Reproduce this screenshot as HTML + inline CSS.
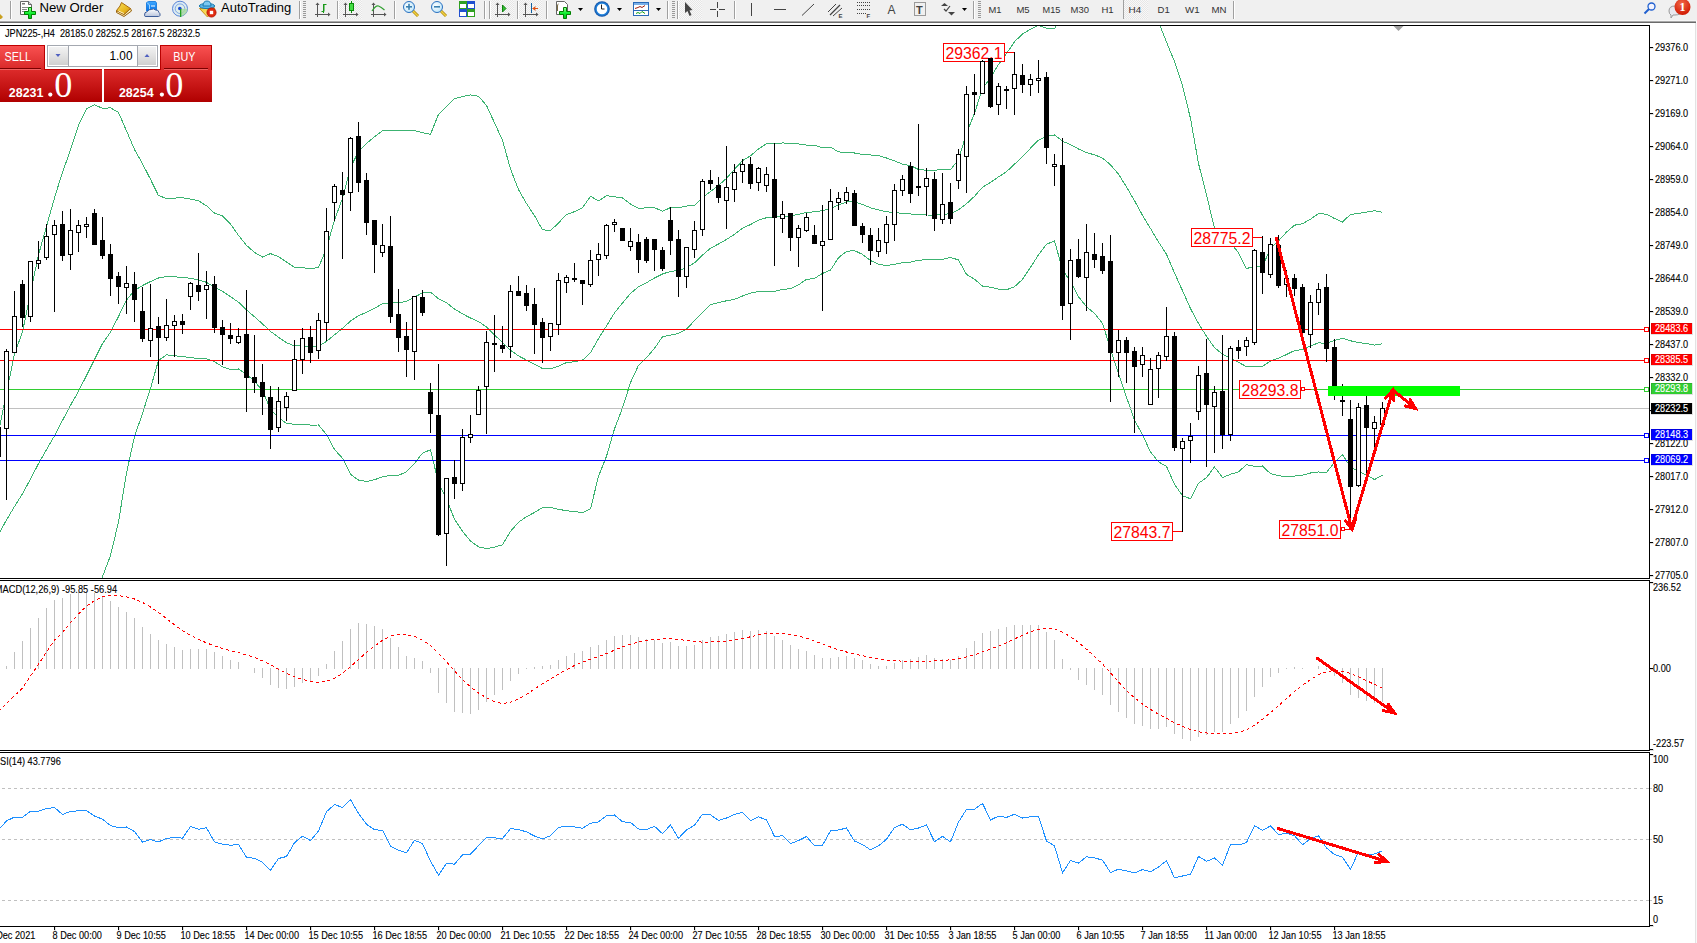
<!DOCTYPE html>
<html><head><meta charset="utf-8"><title>JPN225-,H4</title>
<style>
html,body{margin:0;padding:0;background:#fff;overflow:hidden}
#wrap{position:relative;width:1697px;height:943px;overflow:hidden;background:#fff;font-family:"Liberation Sans",Arial,sans-serif}
svg text{white-space:pre}
</style></head><body><div id="wrap">
<svg id="ch" width="1697" height="943" viewBox="0 0 1697 943" style="position:absolute;left:0;top:0">
<defs><clipPath id="cm"><rect x="0" y="26" width="1649" height="552"/></clipPath><clipPath id="cmacd"><rect x="0" y="581" width="1649" height="169"/></clipPath><clipPath id="crsi"><rect x="0" y="753" width="1649" height="173"/></clipPath></defs>
<rect x="0" y="23" width="1695" height="920" fill="#fff"/>
<rect x="1695" y="23" width="1" height="920" fill="#e3e3e3"/>
<rect x="1696" y="23" width="1" height="920" fill="#f7f7f7"/>
<g clip-path="url(#cm)">
<polyline points="-1.5,432.6 6.5,392.6 14.5,353.9 22.5,332.0 30.5,292.5 38.5,255.0 46.5,226.3 54.5,197.9 62.5,172.1 70.5,150.0 78.5,125.1 86.5,108.8 94.5,104.8 102.5,108.3 110.5,107.9 118.5,112.5 126.5,130.8 134.5,149.5 142.5,163.8 150.5,179.3 158.5,195.6 166.5,198.4 174.5,198.1 182.5,197.7 190.5,199.1 198.5,200.8 206.5,205.8 214.5,213.1 222.5,215.8 230.5,224.0 238.5,235.4 246.5,245.4 254.5,252.4 262.5,257.0 270.5,253.6 278.5,256.6 286.5,262.1 294.5,267.4 302.5,267.5 310.5,269.0 318.5,267.4 326.5,248.5 334.5,220.0 342.5,198.3 350.5,167.8 358.5,151.2 366.5,143.4 374.5,136.8 382.5,130.8 390.5,130.3 398.5,130.3 406.5,130.9 414.5,130.7 422.5,132.6 430.5,134.4 438.5,114.3 446.5,106.6 454.5,98.7 462.5,96.6 470.5,94.9 478.5,96.2 486.5,105.4 494.5,122.8 502.5,140.4 510.5,169.0 518.5,189.6 526.5,203.5 534.5,215.7 542.5,229.8 550.5,230.6 558.5,223.0 566.5,214.4 574.5,211.7 582.5,207.8 590.5,196.3 598.5,200.9 606.5,195.7 614.5,196.8 622.5,198.0 630.5,204.1 638.5,208.3 646.5,207.9 654.5,207.6 662.5,211.3 670.5,207.6 678.5,207.6 686.5,206.1 694.5,205.2 702.5,197.7 710.5,191.6 718.5,185.5 726.5,178.3 734.5,169.2 742.5,160.7 750.5,155.8 758.5,148.9 766.5,143.8 774.5,143.5 782.5,143.0 790.5,143.1 798.5,144.0 806.5,145.1 814.5,145.4 822.5,147.7 830.5,147.2 838.5,151.8 846.5,152.7 854.5,153.0 862.5,154.5 870.5,155.0 878.5,155.5 886.5,158.0 894.5,160.9 902.5,164.1 910.5,165.6 918.5,169.5 926.5,170.3 934.5,170.3 942.5,169.5 950.5,169.7 958.5,159.7 966.5,133.1 974.5,113.4 982.5,88.4 990.5,77.8 998.5,64.5 1006.5,53.6 1014.5,41.7 1022.5,34.0 1030.5,29.1 1038.5,25.3 1046.5,28.1 1054.5,28.8 1062.5,12.7 1070.5,7.5 1078.5,1.3 1086.5,-1.4 1094.5,-3.8 1102.5,-7.1 1110.5,-19.4 1118.5,-25.3 1126.5,-23.3 1134.5,-18.8 1142.5,-4.3 1150.5,5.1 1158.5,21.9 1166.5,42.1 1174.5,61.5 1182.5,85.7 1190.5,118.5 1198.5,163.5 1206.5,194.9 1214.5,228.4 1222.5,230.8 1230.5,242.8 1238.5,252.7 1246.5,268.6 1254.5,266.2 1262.5,266.7 1270.5,248.2 1278.5,240.9 1286.5,232.1 1294.5,225.2 1302.5,223.7 1310.5,219.2 1318.5,213.6 1326.5,214.2 1334.5,218.5 1342.5,222.0 1350.5,214.4 1358.5,213.5 1366.5,212.1 1374.5,210.7 1382.5,212.4" fill="none" stroke="#3cb371" stroke-width="1" shape-rendering="crispEdges" />
<polyline points="-1.5,534.1 6.5,520.0 14.5,506.5 22.5,493.7 30.5,479.0 38.5,463.7 46.5,449.6 54.5,435.8 62.5,420.4 70.5,405.3 78.5,391.3 86.5,375.5 94.5,359.6 102.5,343.5 110.5,332.2 118.5,316.5 126.5,300.0 134.5,290.4 142.5,285.5 150.5,281.5 158.5,278.0 166.5,276.6 174.5,276.9 182.5,277.2 190.5,278.3 198.5,279.8 206.5,282.3 214.5,287.3 222.5,291.3 230.5,296.7 238.5,302.2 246.5,309.9 254.5,316.8 262.5,323.9 270.5,331.4 278.5,337.2 286.5,342.8 294.5,345.8 302.5,345.9 310.5,347.0 318.5,346.2 326.5,341.5 334.5,334.8 342.5,328.3 350.5,321.1 358.5,315.6 366.5,312.4 374.5,308.3 382.5,303.8 390.5,302.7 398.5,302.8 406.5,301.4 414.5,297.1 422.5,292.9 430.5,292.1 438.5,298.7 446.5,302.8 454.5,309.0 462.5,313.9 470.5,318.0 478.5,321.5 486.5,327.0 494.5,334.9 502.5,342.6 510.5,350.2 518.5,355.9 526.5,360.1 534.5,364.1 542.5,368.6 550.5,369.0 558.5,366.2 566.5,362.6 574.5,361.7 582.5,360.2 590.5,352.6 598.5,338.6 606.5,325.9 614.5,312.9 622.5,303.0 630.5,293.4 638.5,286.8 646.5,282.7 654.5,278.0 662.5,274.0 670.5,271.4 678.5,270.5 686.5,267.6 694.5,262.9 702.5,255.1 710.5,248.2 718.5,244.0 726.5,239.5 734.5,234.3 742.5,228.3 750.5,224.5 758.5,220.2 766.5,217.7 774.5,217.4 782.5,216.2 790.5,215.9 798.5,214.4 806.5,212.3 814.5,211.9 822.5,210.6 830.5,208.7 838.5,204.8 846.5,202.0 854.5,201.8 862.5,204.4 870.5,207.8 878.5,209.9 886.5,211.8 894.5,212.6 902.5,213.4 910.5,213.9 918.5,214.8 926.5,215.0 934.5,215.1 942.5,214.5 950.5,213.6 958.5,209.9 966.5,203.7 974.5,196.3 982.5,187.2 990.5,182.5 998.5,176.9 1006.5,171.7 1014.5,164.2 1022.5,156.7 1030.5,148.2 1038.5,140.1 1046.5,136.2 1054.5,134.9 1062.5,141.2 1070.5,144.6 1078.5,149.0 1086.5,152.7 1094.5,154.8 1102.5,158.1 1110.5,164.8 1118.5,174.1 1126.5,187.0 1134.5,200.6 1142.5,215.3 1150.5,228.5 1158.5,241.9 1166.5,254.3 1174.5,272.9 1182.5,290.7 1190.5,308.6 1198.5,323.4 1206.5,336.3 1214.5,347.7 1222.5,354.1 1230.5,358.5 1238.5,362.3 1246.5,366.7 1254.5,366.2 1262.5,366.3 1270.5,361.0 1278.5,358.2 1286.5,354.5 1294.5,350.6 1302.5,349.5 1310.5,346.1 1318.5,342.8 1326.5,343.4 1334.5,340.3 1342.5,338.3 1350.5,340.8 1358.5,342.5 1366.5,343.6 1374.5,345.1 1382.5,343.8" fill="none" stroke="#3cb371" stroke-width="1" shape-rendering="crispEdges" />
<polyline points="-1.5,886.5 6.5,862.5 14.5,838.5 22.5,814.5 30.5,790.5 38.5,766.5 46.5,742.5 54.5,718.5 62.5,694.5 70.5,670.5 78.5,646.5 86.5,622.5 94.5,599.2 102.5,576.7 110.5,555.5 118.5,522.0 126.5,472.9 134.5,436.6 142.5,413.4 150.5,388.4 158.5,360.3 166.5,354.9 174.5,355.7 182.5,356.7 190.5,357.5 198.5,358.8 206.5,358.8 214.5,361.6 222.5,366.8 230.5,369.4 238.5,369.0 246.5,374.4 254.5,381.2 262.5,390.7 270.5,409.1 278.5,417.7 286.5,423.5 294.5,424.2 302.5,424.3 310.5,425.1 318.5,425.0 326.5,434.5 334.5,449.5 342.5,458.3 350.5,474.3 358.5,480.1 366.5,481.5 374.5,479.7 382.5,476.9 390.5,475.2 398.5,475.3 406.5,471.8 414.5,463.5 422.5,453.1 430.5,449.8 438.5,483.1 446.5,499.0 454.5,519.3 462.5,531.3 470.5,541.1 478.5,546.8 486.5,548.7 494.5,547.1 502.5,544.8 510.5,531.4 518.5,522.2 526.5,516.7 534.5,512.5 542.5,507.5 550.5,507.4 558.5,509.3 566.5,510.7 574.5,511.6 582.5,512.6 590.5,508.8 598.5,476.3 606.5,456.2 614.5,428.9 622.5,408.0 630.5,382.6 638.5,365.3 646.5,357.6 654.5,348.4 662.5,336.7 670.5,335.2 678.5,333.4 686.5,329.1 694.5,320.6 702.5,312.5 710.5,304.8 718.5,302.6 726.5,300.8 734.5,299.3 742.5,296.0 750.5,293.1 758.5,291.5 766.5,291.6 774.5,291.3 782.5,289.3 790.5,288.8 798.5,284.8 806.5,279.4 814.5,278.4 822.5,273.4 830.5,270.1 838.5,257.7 846.5,251.4 854.5,250.6 862.5,254.4 870.5,260.5 878.5,264.3 886.5,265.6 894.5,264.4 902.5,262.7 910.5,262.2 918.5,260.2 926.5,259.8 934.5,259.8 942.5,259.5 950.5,257.4 958.5,260.0 966.5,274.4 974.5,279.1 982.5,286.1 990.5,287.2 998.5,289.2 1006.5,289.8 1014.5,286.7 1022.5,279.4 1030.5,267.3 1038.5,254.8 1046.5,244.3 1054.5,241.0 1062.5,269.6 1070.5,281.6 1078.5,296.7 1086.5,306.8 1094.5,313.3 1102.5,323.3 1110.5,349.0 1118.5,373.5 1126.5,397.2 1134.5,420.0 1142.5,434.9 1150.5,451.9 1158.5,461.9 1166.5,466.4 1174.5,484.3 1182.5,495.8 1190.5,498.7 1198.5,483.3 1206.5,477.7 1214.5,467.0 1222.5,477.5 1230.5,474.3 1238.5,471.8 1246.5,464.8 1254.5,466.2 1262.5,466.0 1270.5,473.7 1278.5,475.5 1286.5,476.9 1294.5,476.1 1302.5,475.2 1310.5,473.0 1318.5,472.0 1326.5,472.6 1334.5,462.2 1342.5,454.7 1350.5,467.2 1358.5,471.4 1366.5,475.2 1374.5,479.5 1382.5,475.3" fill="none" stroke="#3cb371" stroke-width="1" shape-rendering="crispEdges" />
<rect x="0" y="329" width="1644" height="1" fill="#ff0000"/>
<rect x="1644.5" y="327.5" width="4" height="4" fill="#fff" stroke="#ff0000" stroke-width="1"/>
<rect x="0" y="360" width="1644" height="1" fill="#ff0000"/>
<rect x="1644.5" y="358.5" width="4" height="4" fill="#fff" stroke="#ff0000" stroke-width="1"/>
<rect x="0" y="389" width="1644" height="1" fill="#32cd32"/>
<rect x="1644.5" y="387.5" width="4" height="4" fill="#fff" stroke="#32cd32" stroke-width="1"/>
<rect x="0" y="408" width="1649" height="1" fill="#c0c0c0"/>
<rect x="0" y="435" width="1644" height="1" fill="#0000ff"/>
<rect x="1644.5" y="433.5" width="4" height="4" fill="#fff" stroke="#0000ff" stroke-width="1"/>
<rect x="0" y="460" width="1644" height="1" fill="#0000ff"/>
<rect x="1644.5" y="458.5" width="4" height="4" fill="#fff" stroke="#0000ff" stroke-width="1"/>
</g>
<g font-family='"Liberation Sans", Arial, sans-serif'>
<rect x="943.5" y="43.5" width="61" height="18" fill="#fff" stroke="#ff0000" stroke-width="1"/><rect x="1005" y="52" width="9" height="1" fill="#ff0000"/><text x="945.5" y="59" font-size="16.8" fill="#ff0000" textLength="57" lengthAdjust="spacingAndGlyphs">29362.1</text>
<rect x="1191.5" y="228.5" width="61" height="18" fill="#fff" stroke="#ff0000" stroke-width="1"/><rect x="1253" y="237" width="9" height="1" fill="#ff0000"/><text x="1193.5" y="244" font-size="16.8" fill="#ff0000" textLength="57" lengthAdjust="spacingAndGlyphs">28775.2</text>
<rect x="1239.5" y="380.5" width="61" height="18" fill="#fff" stroke="#ff0000" stroke-width="1"/><rect x="1301.5" y="387.5" width="3" height="3" fill="#fff" stroke="#ff0000" stroke-width="1"/><rect x="1305" y="389" width="6" height="1" fill="#ff0000"/><text x="1241.5" y="396" font-size="16.8" fill="#ff0000" textLength="57" lengthAdjust="spacingAndGlyphs">28293.8</text>
<rect x="1111.5" y="522.5" width="61" height="18" fill="#fff" stroke="#ff0000" stroke-width="1"/><rect x="1173" y="531" width="9" height="1" fill="#ff0000"/><text x="1113.5" y="538" font-size="16.8" fill="#ff0000" textLength="57" lengthAdjust="spacingAndGlyphs">27843.7</text>
<rect x="1279.5" y="520.5" width="61" height="18" fill="#fff" stroke="#ff0000" stroke-width="1"/><rect x="1341.5" y="527.5" width="3" height="3" fill="#fff" stroke="#ff0000" stroke-width="1"/><rect x="1345" y="529" width="5" height="1" fill="#ff0000"/><text x="1281.5" y="536" font-size="16.8" fill="#ff0000" textLength="57" lengthAdjust="spacingAndGlyphs">27851.0</text>
</g>
<g clip-path="url(#cm)" shape-rendering="crispEdges">
<rect x="-2" y="420" width="1" height="51" fill="#000"/>
<rect x="-4" y="427" width="5" height="30" fill="#000"/>
<rect x="6" y="349" width="1" height="151" fill="#000"/>
<rect x="4.5" y="351.5" width="4" height="77" fill="#fff" stroke="#000" stroke-width="1"/>
<rect x="14" y="291" width="1" height="62" fill="#000"/>
<rect x="12.5" y="316.5" width="4" height="36" fill="#fff" stroke="#000" stroke-width="1"/>
<rect x="22" y="280" width="1" height="47" fill="#000"/>
<rect x="20" y="284" width="5" height="34" fill="#000"/>
<rect x="30" y="261" width="1" height="61" fill="#000"/>
<rect x="28.5" y="261.5" width="4" height="55" fill="#fff" stroke="#000" stroke-width="1"/>
<rect x="38" y="241" width="1" height="28" fill="#000"/>
<rect x="36.5" y="260.5" width="4" height="3" fill="#fff" stroke="#000" stroke-width="1"/>
<rect x="46" y="224" width="1" height="36" fill="#000"/>
<rect x="44.5" y="236.5" width="4" height="21" fill="#fff" stroke="#000" stroke-width="1"/>
<rect x="54" y="220" width="1" height="92" fill="#000"/>
<rect x="52.5" y="225.5" width="4" height="9" fill="#fff" stroke="#000" stroke-width="1"/>
<rect x="62" y="211" width="1" height="50" fill="#000"/>
<rect x="60" y="224" width="5" height="32" fill="#000"/>
<rect x="70" y="209" width="1" height="61" fill="#000"/>
<rect x="68.5" y="230.5" width="4" height="24" fill="#fff" stroke="#000" stroke-width="1"/>
<rect x="78" y="220" width="1" height="32" fill="#000"/>
<rect x="76.5" y="225.5" width="4" height="7" fill="#fff" stroke="#000" stroke-width="1"/>
<rect x="86" y="217" width="1" height="21" fill="#000"/>
<rect x="84.5" y="224.5" width="4" height="2" fill="#fff" stroke="#000" stroke-width="1"/>
<rect x="94" y="209" width="1" height="36" fill="#000"/>
<rect x="92" y="213" width="5" height="32" fill="#000"/>
<rect x="102" y="217" width="1" height="42" fill="#000"/>
<rect x="100" y="240" width="5" height="16" fill="#000"/>
<rect x="110" y="244" width="1" height="52" fill="#000"/>
<rect x="108" y="254" width="5" height="25" fill="#000"/>
<rect x="118" y="272" width="1" height="32" fill="#000"/>
<rect x="116" y="276" width="5" height="11" fill="#000"/>
<rect x="126" y="266" width="1" height="48" fill="#000"/>
<rect x="124.5" y="283.5" width="4" height="4" fill="#fff" stroke="#000" stroke-width="1"/>
<rect x="134" y="272" width="1" height="50" fill="#000"/>
<rect x="132" y="284" width="5" height="16" fill="#000"/>
<rect x="142" y="287" width="1" height="55" fill="#000"/>
<rect x="140" y="311" width="5" height="28" fill="#000"/>
<rect x="150" y="284" width="1" height="73" fill="#000"/>
<rect x="148.5" y="328.5" width="4" height="12" fill="#fff" stroke="#000" stroke-width="1"/>
<rect x="158" y="317" width="1" height="67" fill="#000"/>
<rect x="156" y="326" width="5" height="12" fill="#000"/>
<rect x="166" y="299" width="1" height="42" fill="#000"/>
<rect x="164.5" y="325.5" width="4" height="12" fill="#fff" stroke="#000" stroke-width="1"/>
<rect x="174" y="315" width="1" height="42" fill="#000"/>
<rect x="172.5" y="321.5" width="4" height="4" fill="#fff" stroke="#000" stroke-width="1"/>
<rect x="182" y="314" width="1" height="20" fill="#000"/>
<rect x="180" y="321" width="5" height="4" fill="#000"/>
<rect x="190" y="282" width="1" height="28" fill="#000"/>
<rect x="188.5" y="283.5" width="4" height="13" fill="#fff" stroke="#000" stroke-width="1"/>
<rect x="198" y="253" width="1" height="48" fill="#000"/>
<rect x="196" y="285" width="5" height="7" fill="#000"/>
<rect x="206" y="271" width="1" height="48" fill="#000"/>
<rect x="204.5" y="285.5" width="4" height="4" fill="#fff" stroke="#000" stroke-width="1"/>
<rect x="214" y="276" width="1" height="57" fill="#000"/>
<rect x="212" y="284" width="5" height="44" fill="#000"/>
<rect x="222" y="320" width="1" height="45" fill="#000"/>
<rect x="220" y="327" width="5" height="8" fill="#000"/>
<rect x="230" y="323" width="1" height="21" fill="#000"/>
<rect x="228" y="335" width="5" height="4" fill="#000"/>
<rect x="238" y="328" width="1" height="16" fill="#000"/>
<rect x="236.5" y="336.5" width="4" height="6" fill="#fff" stroke="#000" stroke-width="1"/>
<rect x="246" y="290" width="1" height="122" fill="#000"/>
<rect x="244" y="334" width="5" height="44" fill="#000"/>
<rect x="254" y="335" width="1" height="58" fill="#000"/>
<rect x="252" y="377" width="5" height="6" fill="#000"/>
<rect x="262" y="364" width="1" height="51" fill="#000"/>
<rect x="260" y="382" width="5" height="15" fill="#000"/>
<rect x="270" y="386" width="1" height="63" fill="#000"/>
<rect x="268" y="397" width="5" height="33" fill="#000"/>
<rect x="278" y="387" width="1" height="45" fill="#000"/>
<rect x="276.5" y="401.5" width="4" height="26" fill="#fff" stroke="#000" stroke-width="1"/>
<rect x="286" y="392" width="1" height="29" fill="#000"/>
<rect x="284.5" y="396.5" width="4" height="11" fill="#fff" stroke="#000" stroke-width="1"/>
<rect x="294" y="340" width="1" height="51" fill="#000"/>
<rect x="292.5" y="359.5" width="4" height="31" fill="#fff" stroke="#000" stroke-width="1"/>
<rect x="302" y="328" width="1" height="46" fill="#000"/>
<rect x="300.5" y="338.5" width="4" height="21" fill="#fff" stroke="#000" stroke-width="1"/>
<rect x="310" y="326" width="1" height="37" fill="#000"/>
<rect x="308" y="337" width="5" height="16" fill="#000"/>
<rect x="318" y="313" width="1" height="46" fill="#000"/>
<rect x="316.5" y="320.5" width="4" height="30" fill="#fff" stroke="#000" stroke-width="1"/>
<rect x="326" y="208" width="1" height="133" fill="#000"/>
<rect x="324.5" y="231.5" width="4" height="91" fill="#fff" stroke="#000" stroke-width="1"/>
<rect x="334" y="184" width="1" height="37" fill="#000"/>
<rect x="332.5" y="186.5" width="4" height="16" fill="#fff" stroke="#000" stroke-width="1"/>
<rect x="342" y="172" width="1" height="87" fill="#000"/>
<rect x="340" y="190" width="5" height="5" fill="#000"/>
<rect x="350" y="137" width="1" height="74" fill="#000"/>
<rect x="348.5" y="138.5" width="4" height="54" fill="#fff" stroke="#000" stroke-width="1"/>
<rect x="358" y="122" width="1" height="70" fill="#000"/>
<rect x="356" y="136" width="5" height="47" fill="#000"/>
<rect x="366" y="173" width="1" height="62" fill="#000"/>
<rect x="364" y="180" width="5" height="43" fill="#000"/>
<rect x="374" y="220" width="1" height="53" fill="#000"/>
<rect x="372" y="220" width="5" height="25" fill="#000"/>
<rect x="382" y="224" width="1" height="33" fill="#000"/>
<rect x="380.5" y="245.5" width="4" height="7" fill="#fff" stroke="#000" stroke-width="1"/>
<rect x="390" y="216" width="1" height="107" fill="#000"/>
<rect x="388" y="246" width="5" height="71" fill="#000"/>
<rect x="398" y="289" width="1" height="63" fill="#000"/>
<rect x="396" y="314" width="5" height="24" fill="#000"/>
<rect x="406" y="322" width="1" height="55" fill="#000"/>
<rect x="404" y="336" width="5" height="14" fill="#000"/>
<rect x="414" y="296" width="1" height="84" fill="#000"/>
<rect x="412.5" y="296.5" width="4" height="55" fill="#fff" stroke="#000" stroke-width="1"/>
<rect x="422" y="290" width="1" height="26" fill="#000"/>
<rect x="420" y="297" width="5" height="16" fill="#000"/>
<rect x="430" y="383" width="1" height="50" fill="#000"/>
<rect x="428" y="392" width="5" height="22" fill="#000"/>
<rect x="438" y="364" width="1" height="172" fill="#000"/>
<rect x="436" y="415" width="5" height="120" fill="#000"/>
<rect x="446" y="478" width="1" height="88" fill="#000"/>
<rect x="444.5" y="478.5" width="4" height="55" fill="#fff" stroke="#000" stroke-width="1"/>
<rect x="454" y="460" width="1" height="39" fill="#000"/>
<rect x="452" y="477" width="5" height="7" fill="#000"/>
<rect x="462" y="429" width="1" height="62" fill="#000"/>
<rect x="460.5" y="437.5" width="4" height="46" fill="#fff" stroke="#000" stroke-width="1"/>
<rect x="470" y="415" width="1" height="28" fill="#000"/>
<rect x="468.5" y="434.5" width="4" height="3" fill="#fff" stroke="#000" stroke-width="1"/>
<rect x="478" y="386" width="1" height="29" fill="#000"/>
<rect x="476.5" y="390.5" width="4" height="24" fill="#fff" stroke="#000" stroke-width="1"/>
<rect x="486" y="331" width="1" height="103" fill="#000"/>
<rect x="484.5" y="342.5" width="4" height="44" fill="#fff" stroke="#000" stroke-width="1"/>
<rect x="494" y="315" width="1" height="57" fill="#000"/>
<rect x="492" y="343" width="5" height="2" fill="#000"/>
<rect x="502" y="326" width="1" height="27" fill="#000"/>
<rect x="500" y="345" width="5" height="4" fill="#000"/>
<rect x="510" y="285" width="1" height="73" fill="#000"/>
<rect x="508.5" y="291.5" width="4" height="55" fill="#fff" stroke="#000" stroke-width="1"/>
<rect x="518" y="276" width="1" height="20" fill="#000"/>
<rect x="516" y="291" width="5" height="5" fill="#000"/>
<rect x="526" y="285" width="1" height="26" fill="#000"/>
<rect x="524" y="293" width="5" height="13" fill="#000"/>
<rect x="534" y="288" width="1" height="66" fill="#000"/>
<rect x="532" y="304" width="5" height="21" fill="#000"/>
<rect x="542" y="318" width="1" height="45" fill="#000"/>
<rect x="540" y="322" width="5" height="16" fill="#000"/>
<rect x="550" y="323" width="1" height="28" fill="#000"/>
<rect x="548.5" y="323.5" width="4" height="13" fill="#fff" stroke="#000" stroke-width="1"/>
<rect x="558" y="273" width="1" height="62" fill="#000"/>
<rect x="556.5" y="280.5" width="4" height="44" fill="#fff" stroke="#000" stroke-width="1"/>
<rect x="566" y="275" width="1" height="18" fill="#000"/>
<rect x="564.5" y="277.5" width="4" height="5" fill="#fff" stroke="#000" stroke-width="1"/>
<rect x="574" y="263" width="1" height="19" fill="#000"/>
<rect x="572.5" y="278.5" width="4" height="1" fill="#fff" stroke="#000" stroke-width="1"/>
<rect x="582" y="280" width="1" height="25" fill="#000"/>
<rect x="580" y="280" width="5" height="4" fill="#000"/>
<rect x="590" y="250" width="1" height="37" fill="#000"/>
<rect x="588.5" y="260.5" width="4" height="24" fill="#fff" stroke="#000" stroke-width="1"/>
<rect x="598" y="243" width="1" height="33" fill="#000"/>
<rect x="596.5" y="254.5" width="4" height="5" fill="#fff" stroke="#000" stroke-width="1"/>
<rect x="606" y="224" width="1" height="35" fill="#000"/>
<rect x="604.5" y="225.5" width="4" height="30" fill="#fff" stroke="#000" stroke-width="1"/>
<rect x="614" y="219" width="1" height="13" fill="#000"/>
<rect x="612.5" y="222.5" width="4" height="2" fill="#fff" stroke="#000" stroke-width="1"/>
<rect x="622" y="228" width="1" height="13" fill="#000"/>
<rect x="620" y="228" width="5" height="13" fill="#000"/>
<rect x="630" y="228" width="1" height="23" fill="#000"/>
<rect x="628.5" y="241.5" width="4" height="5" fill="#fff" stroke="#000" stroke-width="1"/>
<rect x="638" y="234" width="1" height="39" fill="#000"/>
<rect x="636" y="242" width="5" height="18" fill="#000"/>
<rect x="646" y="237" width="1" height="26" fill="#000"/>
<rect x="644" y="239" width="5" height="22" fill="#000"/>
<rect x="654" y="239" width="1" height="32" fill="#000"/>
<rect x="652" y="239" width="5" height="11" fill="#000"/>
<rect x="662" y="247" width="1" height="24" fill="#000"/>
<rect x="660" y="250" width="5" height="19" fill="#000"/>
<rect x="670" y="207" width="1" height="48" fill="#000"/>
<rect x="668" y="220" width="5" height="21" fill="#000"/>
<rect x="678" y="230" width="1" height="67" fill="#000"/>
<rect x="676" y="239" width="5" height="38" fill="#000"/>
<rect x="686" y="247" width="1" height="41" fill="#000"/>
<rect x="684.5" y="247.5" width="4" height="29" fill="#fff" stroke="#000" stroke-width="1"/>
<rect x="694" y="221" width="1" height="37" fill="#000"/>
<rect x="692.5" y="230.5" width="4" height="19" fill="#fff" stroke="#000" stroke-width="1"/>
<rect x="702" y="179" width="1" height="57" fill="#000"/>
<rect x="700.5" y="181.5" width="4" height="48" fill="#fff" stroke="#000" stroke-width="1"/>
<rect x="710" y="170" width="1" height="20" fill="#000"/>
<rect x="708" y="180" width="5" height="4" fill="#000"/>
<rect x="718" y="177" width="1" height="26" fill="#000"/>
<rect x="716" y="185" width="5" height="13" fill="#000"/>
<rect x="726" y="146" width="1" height="83" fill="#000"/>
<rect x="724.5" y="187.5" width="4" height="13" fill="#fff" stroke="#000" stroke-width="1"/>
<rect x="734" y="164" width="1" height="38" fill="#000"/>
<rect x="732.5" y="172.5" width="4" height="17" fill="#fff" stroke="#000" stroke-width="1"/>
<rect x="742" y="159" width="1" height="24" fill="#000"/>
<rect x="740.5" y="164.5" width="4" height="7" fill="#fff" stroke="#000" stroke-width="1"/>
<rect x="750" y="157" width="1" height="32" fill="#000"/>
<rect x="748" y="164" width="5" height="20" fill="#000"/>
<rect x="758" y="167" width="1" height="24" fill="#000"/>
<rect x="756.5" y="168.5" width="4" height="14" fill="#fff" stroke="#000" stroke-width="1"/>
<rect x="766" y="167" width="1" height="25" fill="#000"/>
<rect x="764.5" y="174.5" width="4" height="11" fill="#fff" stroke="#000" stroke-width="1"/>
<rect x="774" y="143" width="1" height="123" fill="#000"/>
<rect x="772" y="179" width="5" height="39" fill="#000"/>
<rect x="782" y="201" width="1" height="32" fill="#000"/>
<rect x="780.5" y="214.5" width="4" height="4" fill="#fff" stroke="#000" stroke-width="1"/>
<rect x="790" y="213" width="1" height="38" fill="#000"/>
<rect x="788" y="213" width="5" height="25" fill="#000"/>
<rect x="798" y="225" width="1" height="42" fill="#000"/>
<rect x="796.5" y="228.5" width="4" height="9" fill="#fff" stroke="#000" stroke-width="1"/>
<rect x="806" y="213" width="1" height="19" fill="#000"/>
<rect x="804.5" y="217.5" width="4" height="13" fill="#fff" stroke="#000" stroke-width="1"/>
<rect x="814" y="225" width="1" height="19" fill="#000"/>
<rect x="812" y="235" width="5" height="9" fill="#000"/>
<rect x="822" y="205" width="1" height="106" fill="#000"/>
<rect x="820.5" y="241.5" width="4" height="4" fill="#fff" stroke="#000" stroke-width="1"/>
<rect x="830" y="189" width="1" height="51" fill="#000"/>
<rect x="828.5" y="201.5" width="4" height="38" fill="#fff" stroke="#000" stroke-width="1"/>
<rect x="838" y="192" width="1" height="18" fill="#000"/>
<rect x="836.5" y="198.5" width="4" height="4" fill="#fff" stroke="#000" stroke-width="1"/>
<rect x="846" y="187" width="1" height="17" fill="#000"/>
<rect x="844.5" y="192.5" width="4" height="8" fill="#fff" stroke="#000" stroke-width="1"/>
<rect x="854" y="190" width="1" height="36" fill="#000"/>
<rect x="852" y="193" width="5" height="33" fill="#000"/>
<rect x="862" y="223" width="1" height="20" fill="#000"/>
<rect x="860" y="226" width="5" height="9" fill="#000"/>
<rect x="870" y="228" width="1" height="37" fill="#000"/>
<rect x="868" y="235" width="5" height="16" fill="#000"/>
<rect x="878" y="228" width="1" height="29" fill="#000"/>
<rect x="876.5" y="240.5" width="4" height="11" fill="#fff" stroke="#000" stroke-width="1"/>
<rect x="886" y="216" width="1" height="38" fill="#000"/>
<rect x="884.5" y="224.5" width="4" height="18" fill="#fff" stroke="#000" stroke-width="1"/>
<rect x="894" y="184" width="1" height="57" fill="#000"/>
<rect x="892.5" y="190.5" width="4" height="34" fill="#fff" stroke="#000" stroke-width="1"/>
<rect x="902" y="175" width="1" height="21" fill="#000"/>
<rect x="900.5" y="179.5" width="4" height="11" fill="#fff" stroke="#000" stroke-width="1"/>
<rect x="910" y="162" width="1" height="41" fill="#000"/>
<rect x="908" y="166" width="5" height="28" fill="#000"/>
<rect x="918" y="124" width="1" height="72" fill="#000"/>
<rect x="916" y="186" width="5" height="2" fill="#000"/>
<rect x="926" y="168" width="1" height="48" fill="#000"/>
<rect x="924.5" y="178.5" width="4" height="8" fill="#fff" stroke="#000" stroke-width="1"/>
<rect x="934" y="172" width="1" height="59" fill="#000"/>
<rect x="932" y="179" width="5" height="40" fill="#000"/>
<rect x="942" y="173" width="1" height="51" fill="#000"/>
<rect x="940.5" y="204.5" width="4" height="15" fill="#fff" stroke="#000" stroke-width="1"/>
<rect x="950" y="183" width="1" height="41" fill="#000"/>
<rect x="948" y="202" width="5" height="17" fill="#000"/>
<rect x="958" y="149" width="1" height="40" fill="#000"/>
<rect x="956.5" y="154.5" width="4" height="26" fill="#fff" stroke="#000" stroke-width="1"/>
<rect x="966" y="86" width="1" height="107" fill="#000"/>
<rect x="964.5" y="94.5" width="4" height="62" fill="#fff" stroke="#000" stroke-width="1"/>
<rect x="974" y="74" width="1" height="41" fill="#000"/>
<rect x="972" y="92" width="5" height="3" fill="#000"/>
<rect x="982" y="60" width="1" height="34" fill="#000"/>
<rect x="980.5" y="61.5" width="4" height="32" fill="#fff" stroke="#000" stroke-width="1"/>
<rect x="990" y="58" width="1" height="50" fill="#000"/>
<rect x="988" y="58" width="5" height="49" fill="#000"/>
<rect x="998" y="83" width="1" height="32" fill="#000"/>
<rect x="996.5" y="86.5" width="4" height="18" fill="#fff" stroke="#000" stroke-width="1"/>
<rect x="1006" y="86" width="1" height="23" fill="#000"/>
<rect x="1004" y="89" width="5" height="2" fill="#000"/>
<rect x="1014" y="52" width="1" height="63" fill="#000"/>
<rect x="1012.5" y="74.5" width="4" height="14" fill="#fff" stroke="#000" stroke-width="1"/>
<rect x="1022" y="64" width="1" height="29" fill="#000"/>
<rect x="1020" y="75" width="5" height="10" fill="#000"/>
<rect x="1030" y="74" width="1" height="22" fill="#000"/>
<rect x="1028.5" y="79.5" width="4" height="5" fill="#fff" stroke="#000" stroke-width="1"/>
<rect x="1038" y="60" width="1" height="33" fill="#000"/>
<rect x="1036.5" y="78.5" width="4" height="2" fill="#fff" stroke="#000" stroke-width="1"/>
<rect x="1046" y="72" width="1" height="92" fill="#000"/>
<rect x="1044" y="77" width="5" height="71" fill="#000"/>
<rect x="1054" y="154" width="1" height="32" fill="#000"/>
<rect x="1052.5" y="164.5" width="4" height="2" fill="#fff" stroke="#000" stroke-width="1"/>
<rect x="1062" y="138" width="1" height="182" fill="#000"/>
<rect x="1060" y="165" width="5" height="141" fill="#000"/>
<rect x="1070" y="249" width="1" height="91" fill="#000"/>
<rect x="1068.5" y="260.5" width="4" height="43" fill="#fff" stroke="#000" stroke-width="1"/>
<rect x="1078" y="239" width="1" height="39" fill="#000"/>
<rect x="1076" y="259" width="5" height="18" fill="#000"/>
<rect x="1086" y="224" width="1" height="87" fill="#000"/>
<rect x="1084.5" y="252.5" width="4" height="25" fill="#fff" stroke="#000" stroke-width="1"/>
<rect x="1094" y="233" width="1" height="35" fill="#000"/>
<rect x="1092" y="254" width="5" height="6" fill="#000"/>
<rect x="1102" y="243" width="1" height="31" fill="#000"/>
<rect x="1100" y="256" width="5" height="15" fill="#000"/>
<rect x="1110" y="235" width="1" height="167" fill="#000"/>
<rect x="1108" y="261" width="5" height="92" fill="#000"/>
<rect x="1118" y="330" width="1" height="47" fill="#000"/>
<rect x="1116.5" y="340.5" width="4" height="12" fill="#fff" stroke="#000" stroke-width="1"/>
<rect x="1126" y="337" width="1" height="46" fill="#000"/>
<rect x="1124" y="340" width="5" height="13" fill="#000"/>
<rect x="1134" y="347" width="1" height="86" fill="#000"/>
<rect x="1132" y="351" width="5" height="16" fill="#000"/>
<rect x="1142" y="347" width="1" height="30" fill="#000"/>
<rect x="1140.5" y="355.5" width="4" height="9" fill="#fff" stroke="#000" stroke-width="1"/>
<rect x="1150" y="358" width="1" height="47" fill="#000"/>
<rect x="1148.5" y="369.5" width="4" height="35" fill="#fff" stroke="#000" stroke-width="1"/>
<rect x="1158" y="352" width="1" height="46" fill="#000"/>
<rect x="1156.5" y="355.5" width="4" height="13" fill="#fff" stroke="#000" stroke-width="1"/>
<rect x="1166" y="307" width="1" height="54" fill="#000"/>
<rect x="1164.5" y="336.5" width="4" height="20" fill="#fff" stroke="#000" stroke-width="1"/>
<rect x="1174" y="332" width="1" height="119" fill="#000"/>
<rect x="1172" y="336" width="5" height="112" fill="#000"/>
<rect x="1182" y="438" width="1" height="94" fill="#000"/>
<rect x="1180.5" y="441.5" width="4" height="7" fill="#fff" stroke="#000" stroke-width="1"/>
<rect x="1190" y="423" width="1" height="40" fill="#000"/>
<rect x="1188.5" y="436.5" width="4" height="4" fill="#fff" stroke="#000" stroke-width="1"/>
<rect x="1198" y="366" width="1" height="54" fill="#000"/>
<rect x="1196.5" y="375.5" width="4" height="36" fill="#fff" stroke="#000" stroke-width="1"/>
<rect x="1206" y="339" width="1" height="128" fill="#000"/>
<rect x="1204" y="373" width="5" height="32" fill="#000"/>
<rect x="1214" y="386" width="1" height="67" fill="#000"/>
<rect x="1212.5" y="392.5" width="4" height="14" fill="#fff" stroke="#000" stroke-width="1"/>
<rect x="1222" y="335" width="1" height="114" fill="#000"/>
<rect x="1220" y="391" width="5" height="44" fill="#000"/>
<rect x="1230" y="346" width="1" height="95" fill="#000"/>
<rect x="1228.5" y="348.5" width="4" height="86" fill="#fff" stroke="#000" stroke-width="1"/>
<rect x="1238" y="340" width="1" height="19" fill="#000"/>
<rect x="1236" y="347" width="5" height="4" fill="#000"/>
<rect x="1246" y="337" width="1" height="19" fill="#000"/>
<rect x="1244.5" y="340.5" width="4" height="6" fill="#fff" stroke="#000" stroke-width="1"/>
<rect x="1254" y="249" width="1" height="96" fill="#000"/>
<rect x="1252.5" y="250.5" width="4" height="92" fill="#fff" stroke="#000" stroke-width="1"/>
<rect x="1262" y="236" width="1" height="58" fill="#000"/>
<rect x="1260" y="252" width="5" height="21" fill="#000"/>
<rect x="1270" y="238" width="1" height="40" fill="#000"/>
<rect x="1268.5" y="244.5" width="4" height="30" fill="#fff" stroke="#000" stroke-width="1"/>
<rect x="1278" y="235" width="1" height="53" fill="#000"/>
<rect x="1276" y="245" width="5" height="41" fill="#000"/>
<rect x="1286" y="270" width="1" height="27" fill="#000"/>
<rect x="1284.5" y="278.5" width="4" height="6" fill="#fff" stroke="#000" stroke-width="1"/>
<rect x="1294" y="274" width="1" height="22" fill="#000"/>
<rect x="1292" y="278" width="5" height="11" fill="#000"/>
<rect x="1302" y="284" width="1" height="49" fill="#000"/>
<rect x="1300" y="287" width="5" height="46" fill="#000"/>
<rect x="1310" y="295" width="1" height="53" fill="#000"/>
<rect x="1308.5" y="302.5" width="4" height="32" fill="#fff" stroke="#000" stroke-width="1"/>
<rect x="1318" y="283" width="1" height="32" fill="#000"/>
<rect x="1316.5" y="289.5" width="4" height="13" fill="#fff" stroke="#000" stroke-width="1"/>
<rect x="1326" y="274" width="1" height="88" fill="#000"/>
<rect x="1324" y="287" width="5" height="62" fill="#000"/>
<rect x="1334" y="339" width="1" height="61" fill="#000"/>
<rect x="1332" y="347" width="5" height="40" fill="#000"/>
<rect x="1342" y="384" width="1" height="32" fill="#000"/>
<rect x="1340" y="400" width="5" height="2" fill="#000"/>
<rect x="1350" y="400" width="1" height="130" fill="#000"/>
<rect x="1348" y="419" width="5" height="68" fill="#000"/>
<rect x="1358" y="403" width="1" height="84" fill="#000"/>
<rect x="1356.5" y="407.5" width="4" height="78" fill="#fff" stroke="#000" stroke-width="1"/>
<rect x="1366" y="396" width="1" height="80" fill="#000"/>
<rect x="1364" y="405" width="5" height="23" fill="#000"/>
<rect x="1374" y="416" width="1" height="31" fill="#000"/>
<rect x="1372.5" y="422.5" width="4" height="6" fill="#fff" stroke="#000" stroke-width="1"/>
<rect x="1382" y="402" width="1" height="28" fill="#000"/>
<rect x="1380.5" y="408.5" width="4" height="16" fill="#fff" stroke="#000" stroke-width="1"/>
</g>
<rect x="1328" y="386" width="132" height="10" fill="#00ff00"/>
<g shape-rendering="crispEdges">
<line x1="1276.5" y1="238.5" x2="1351.6" y2="528.0" stroke="#ff0000" stroke-width="3" stroke-linecap="round"/><polyline points="1345.5,521 1352,529.5 1356,518.5" fill="none" stroke="#ff0000" stroke-width="3" stroke-linejoin="miter" stroke-linecap="round"/>
<line x1="1351.5" y1="529" x2="1392.6" y2="391.4" stroke="#ff0000" stroke-width="3" stroke-linecap="round"/><polyline points="1385.5,398 1393,390 1394,401" fill="none" stroke="#ff0000" stroke-width="3" stroke-linejoin="miter" stroke-linecap="round"/>
<line x1="1393.5" y1="390.5" x2="1414.3" y2="407.6" stroke="#ff0000" stroke-width="3" stroke-linecap="round"/><polyline points="1405.5,406 1415.5,408.5 1410,399.5" fill="none" stroke="#ff0000" stroke-width="3" stroke-linejoin="miter" stroke-linecap="round"/>
</g>
<polygon points="1393.5,26 1403.5,26 1398.5,31" fill="#a0a0a0"/>
<g clip-path="url(#cmacd)">
<g shape-rendering="crispEdges">
<rect x="-2" y="668" width="1" height="13" fill="#c0c0c0"/>
<rect x="6" y="666" width="1" height="3" fill="#c0c0c0"/>
<rect x="14" y="652" width="1" height="17" fill="#c0c0c0"/>
<rect x="22" y="641" width="1" height="28" fill="#c0c0c0"/>
<rect x="30" y="628" width="1" height="41" fill="#c0c0c0"/>
<rect x="38" y="618" width="1" height="51" fill="#c0c0c0"/>
<rect x="46" y="608" width="1" height="61" fill="#c0c0c0"/>
<rect x="54" y="600" width="1" height="69" fill="#c0c0c0"/>
<rect x="62" y="598" width="1" height="71" fill="#c0c0c0"/>
<rect x="70" y="594" width="1" height="75" fill="#c0c0c0"/>
<rect x="78" y="592" width="1" height="77" fill="#c0c0c0"/>
<rect x="86" y="591" width="1" height="78" fill="#c0c0c0"/>
<rect x="94" y="593" width="1" height="76" fill="#c0c0c0"/>
<rect x="102" y="596" width="1" height="73" fill="#c0c0c0"/>
<rect x="110" y="601" width="1" height="68" fill="#c0c0c0"/>
<rect x="118" y="607" width="1" height="62" fill="#c0c0c0"/>
<rect x="126" y="612" width="1" height="57" fill="#c0c0c0"/>
<rect x="134" y="618" width="1" height="51" fill="#c0c0c0"/>
<rect x="142" y="627" width="1" height="42" fill="#c0c0c0"/>
<rect x="150" y="634" width="1" height="35" fill="#c0c0c0"/>
<rect x="158" y="640" width="1" height="29" fill="#c0c0c0"/>
<rect x="166" y="644" width="1" height="25" fill="#c0c0c0"/>
<rect x="174" y="647" width="1" height="22" fill="#c0c0c0"/>
<rect x="182" y="650" width="1" height="19" fill="#c0c0c0"/>
<rect x="190" y="649" width="1" height="20" fill="#c0c0c0"/>
<rect x="198" y="649" width="1" height="20" fill="#c0c0c0"/>
<rect x="206" y="649" width="1" height="20" fill="#c0c0c0"/>
<rect x="214" y="652" width="1" height="17" fill="#c0c0c0"/>
<rect x="222" y="656" width="1" height="13" fill="#c0c0c0"/>
<rect x="230" y="660" width="1" height="9" fill="#c0c0c0"/>
<rect x="238" y="662" width="1" height="7" fill="#c0c0c0"/>
<rect x="254" y="668" width="1" height="5" fill="#c0c0c0"/>
<rect x="262" y="668" width="1" height="10" fill="#c0c0c0"/>
<rect x="270" y="668" width="1" height="17" fill="#c0c0c0"/>
<rect x="278" y="668" width="1" height="20" fill="#c0c0c0"/>
<rect x="286" y="668" width="1" height="21" fill="#c0c0c0"/>
<rect x="294" y="668" width="1" height="19" fill="#c0c0c0"/>
<rect x="302" y="668" width="1" height="15" fill="#c0c0c0"/>
<rect x="310" y="668" width="1" height="13" fill="#c0c0c0"/>
<rect x="318" y="668" width="1" height="8" fill="#c0c0c0"/>
<rect x="326" y="664" width="1" height="5" fill="#c0c0c0"/>
<rect x="334" y="651" width="1" height="18" fill="#c0c0c0"/>
<rect x="342" y="641" width="1" height="28" fill="#c0c0c0"/>
<rect x="350" y="629" width="1" height="40" fill="#c0c0c0"/>
<rect x="358" y="623" width="1" height="46" fill="#c0c0c0"/>
<rect x="366" y="624" width="1" height="45" fill="#c0c0c0"/>
<rect x="374" y="626" width="1" height="43" fill="#c0c0c0"/>
<rect x="382" y="629" width="1" height="40" fill="#c0c0c0"/>
<rect x="390" y="638" width="1" height="31" fill="#c0c0c0"/>
<rect x="398" y="647" width="1" height="22" fill="#c0c0c0"/>
<rect x="406" y="656" width="1" height="13" fill="#c0c0c0"/>
<rect x="414" y="658" width="1" height="11" fill="#c0c0c0"/>
<rect x="422" y="661" width="1" height="8" fill="#c0c0c0"/>
<rect x="430" y="668" width="1" height="5" fill="#c0c0c0"/>
<rect x="438" y="668" width="1" height="25" fill="#c0c0c0"/>
<rect x="446" y="668" width="1" height="35" fill="#c0c0c0"/>
<rect x="454" y="668" width="1" height="44" fill="#c0c0c0"/>
<rect x="462" y="668" width="1" height="45" fill="#c0c0c0"/>
<rect x="470" y="668" width="1" height="46" fill="#c0c0c0"/>
<rect x="478" y="668" width="1" height="42" fill="#c0c0c0"/>
<rect x="486" y="668" width="1" height="34" fill="#c0c0c0"/>
<rect x="494" y="668" width="1" height="27" fill="#c0c0c0"/>
<rect x="502" y="668" width="1" height="22" fill="#c0c0c0"/>
<rect x="510" y="668" width="1" height="13" fill="#c0c0c0"/>
<rect x="518" y="668" width="1" height="6" fill="#c0c0c0"/>
<rect x="526" y="668" width="1" height="1" fill="#c0c0c0"/>
<rect x="534" y="667" width="1" height="2" fill="#c0c0c0"/>
<rect x="542" y="666" width="1" height="3" fill="#c0c0c0"/>
<rect x="550" y="665" width="1" height="4" fill="#c0c0c0"/>
<rect x="558" y="660" width="1" height="9" fill="#c0c0c0"/>
<rect x="566" y="656" width="1" height="13" fill="#c0c0c0"/>
<rect x="574" y="653" width="1" height="16" fill="#c0c0c0"/>
<rect x="582" y="651" width="1" height="18" fill="#c0c0c0"/>
<rect x="590" y="647" width="1" height="22" fill="#c0c0c0"/>
<rect x="598" y="645" width="1" height="24" fill="#c0c0c0"/>
<rect x="606" y="640" width="1" height="29" fill="#c0c0c0"/>
<rect x="614" y="636" width="1" height="33" fill="#c0c0c0"/>
<rect x="622" y="635" width="1" height="34" fill="#c0c0c0"/>
<rect x="630" y="635" width="1" height="34" fill="#c0c0c0"/>
<rect x="638" y="637" width="1" height="32" fill="#c0c0c0"/>
<rect x="646" y="639" width="1" height="30" fill="#c0c0c0"/>
<rect x="654" y="640" width="1" height="29" fill="#c0c0c0"/>
<rect x="662" y="643" width="1" height="26" fill="#c0c0c0"/>
<rect x="670" y="642" width="1" height="27" fill="#c0c0c0"/>
<rect x="678" y="646" width="1" height="23" fill="#c0c0c0"/>
<rect x="686" y="646" width="1" height="23" fill="#c0c0c0"/>
<rect x="694" y="645" width="1" height="24" fill="#c0c0c0"/>
<rect x="702" y="640" width="1" height="29" fill="#c0c0c0"/>
<rect x="710" y="637" width="1" height="32" fill="#c0c0c0"/>
<rect x="718" y="636" width="1" height="33" fill="#c0c0c0"/>
<rect x="726" y="634" width="1" height="35" fill="#c0c0c0"/>
<rect x="734" y="632" width="1" height="37" fill="#c0c0c0"/>
<rect x="742" y="630" width="1" height="39" fill="#c0c0c0"/>
<rect x="750" y="631" width="1" height="38" fill="#c0c0c0"/>
<rect x="758" y="630" width="1" height="39" fill="#c0c0c0"/>
<rect x="766" y="631" width="1" height="38" fill="#c0c0c0"/>
<rect x="774" y="636" width="1" height="33" fill="#c0c0c0"/>
<rect x="782" y="640" width="1" height="29" fill="#c0c0c0"/>
<rect x="790" y="645" width="1" height="24" fill="#c0c0c0"/>
<rect x="798" y="649" width="1" height="20" fill="#c0c0c0"/>
<rect x="806" y="651" width="1" height="18" fill="#c0c0c0"/>
<rect x="814" y="655" width="1" height="14" fill="#c0c0c0"/>
<rect x="822" y="658" width="1" height="11" fill="#c0c0c0"/>
<rect x="830" y="658" width="1" height="11" fill="#c0c0c0"/>
<rect x="838" y="657" width="1" height="12" fill="#c0c0c0"/>
<rect x="846" y="656" width="1" height="13" fill="#c0c0c0"/>
<rect x="854" y="658" width="1" height="11" fill="#c0c0c0"/>
<rect x="862" y="660" width="1" height="9" fill="#c0c0c0"/>
<rect x="870" y="664" width="1" height="5" fill="#c0c0c0"/>
<rect x="878" y="666" width="1" height="3" fill="#c0c0c0"/>
<rect x="886" y="666" width="1" height="3" fill="#c0c0c0"/>
<rect x="894" y="663" width="1" height="6" fill="#c0c0c0"/>
<rect x="902" y="660" width="1" height="9" fill="#c0c0c0"/>
<rect x="910" y="659" width="1" height="10" fill="#c0c0c0"/>
<rect x="918" y="657" width="1" height="12" fill="#c0c0c0"/>
<rect x="926" y="655" width="1" height="14" fill="#c0c0c0"/>
<rect x="934" y="658" width="1" height="11" fill="#c0c0c0"/>
<rect x="942" y="659" width="1" height="10" fill="#c0c0c0"/>
<rect x="950" y="660" width="1" height="9" fill="#c0c0c0"/>
<rect x="958" y="656" width="1" height="13" fill="#c0c0c0"/>
<rect x="966" y="648" width="1" height="21" fill="#c0c0c0"/>
<rect x="974" y="641" width="1" height="28" fill="#c0c0c0"/>
<rect x="982" y="633" width="1" height="36" fill="#c0c0c0"/>
<rect x="990" y="631" width="1" height="38" fill="#c0c0c0"/>
<rect x="998" y="629" width="1" height="40" fill="#c0c0c0"/>
<rect x="1006" y="627" width="1" height="42" fill="#c0c0c0"/>
<rect x="1014" y="625" width="1" height="44" fill="#c0c0c0"/>
<rect x="1022" y="625" width="1" height="44" fill="#c0c0c0"/>
<rect x="1030" y="625" width="1" height="44" fill="#c0c0c0"/>
<rect x="1038" y="625" width="1" height="44" fill="#c0c0c0"/>
<rect x="1046" y="632" width="1" height="37" fill="#c0c0c0"/>
<rect x="1054" y="640" width="1" height="29" fill="#c0c0c0"/>
<rect x="1062" y="659" width="1" height="10" fill="#c0c0c0"/>
<rect x="1070" y="668" width="1" height="2" fill="#c0c0c0"/>
<rect x="1078" y="668" width="1" height="12" fill="#c0c0c0"/>
<rect x="1086" y="668" width="1" height="17" fill="#c0c0c0"/>
<rect x="1094" y="668" width="1" height="22" fill="#c0c0c0"/>
<rect x="1102" y="668" width="1" height="27" fill="#c0c0c0"/>
<rect x="1110" y="668" width="1" height="37" fill="#c0c0c0"/>
<rect x="1118" y="668" width="1" height="44" fill="#c0c0c0"/>
<rect x="1126" y="668" width="1" height="50" fill="#c0c0c0"/>
<rect x="1134" y="668" width="1" height="56" fill="#c0c0c0"/>
<rect x="1142" y="668" width="1" height="58" fill="#c0c0c0"/>
<rect x="1150" y="668" width="1" height="61" fill="#c0c0c0"/>
<rect x="1158" y="668" width="1" height="61" fill="#c0c0c0"/>
<rect x="1166" y="668" width="1" height="59" fill="#c0c0c0"/>
<rect x="1174" y="668" width="1" height="66" fill="#c0c0c0"/>
<rect x="1182" y="668" width="1" height="71" fill="#c0c0c0"/>
<rect x="1190" y="668" width="1" height="73" fill="#c0c0c0"/>
<rect x="1198" y="668" width="1" height="69" fill="#c0c0c0"/>
<rect x="1206" y="668" width="1" height="67" fill="#c0c0c0"/>
<rect x="1214" y="668" width="1" height="64" fill="#c0c0c0"/>
<rect x="1222" y="668" width="1" height="64" fill="#c0c0c0"/>
<rect x="1230" y="668" width="1" height="56" fill="#c0c0c0"/>
<rect x="1238" y="668" width="1" height="50" fill="#c0c0c0"/>
<rect x="1246" y="668" width="1" height="43" fill="#c0c0c0"/>
<rect x="1254" y="668" width="1" height="29" fill="#c0c0c0"/>
<rect x="1262" y="668" width="1" height="19" fill="#c0c0c0"/>
<rect x="1270" y="668" width="1" height="9" fill="#c0c0c0"/>
<rect x="1278" y="668" width="1" height="5" fill="#c0c0c0"/>
<rect x="1286" y="668" width="1" height="1" fill="#c0c0c0"/>
<rect x="1294" y="667" width="1" height="2" fill="#c0c0c0"/>
<rect x="1302" y="668" width="1" height="1" fill="#c0c0c0"/>
<rect x="1318" y="666" width="1" height="3" fill="#c0c0c0"/>
<rect x="1326" y="668" width="1" height="2" fill="#c0c0c0"/>
<rect x="1334" y="668" width="1" height="8" fill="#c0c0c0"/>
<rect x="1342" y="668" width="1" height="15" fill="#c0c0c0"/>
<rect x="1350" y="668" width="1" height="27" fill="#c0c0c0"/>
<rect x="1358" y="668" width="1" height="30" fill="#c0c0c0"/>
<rect x="1366" y="668" width="1" height="33" fill="#c0c0c0"/>
<rect x="1374" y="668" width="1" height="35" fill="#c0c0c0"/>
<rect x="1382" y="668" width="1" height="34" fill="#c0c0c0"/>
</g>
<polyline points="-1.5,711.0 6.5,703.5 14.5,695.7 22.5,688.0 30.5,676.0 38.5,664.3 46.5,652.0 54.5,640.2 62.5,632.5 70.5,622.9 78.5,613.9 86.5,606.3 94.5,600.6 102.5,596.8 110.5,595.3 118.5,595.5 126.5,596.9 134.5,599.0 142.5,602.4 150.5,607.0 158.5,612.5 166.5,618.6 174.5,624.8 182.5,630.8 190.5,635.3 198.5,639.2 206.5,642.9 214.5,645.9 222.5,648.4 230.5,650.6 238.5,652.6 246.5,655.0 254.5,657.5 262.5,660.8 270.5,664.8 278.5,669.2 286.5,673.4 294.5,676.8 302.5,679.4 310.5,681.4 318.5,682.3 326.5,681.3 334.5,678.2 342.5,673.3 350.5,666.7 358.5,659.4 366.5,652.4 374.5,646.1 382.5,640.3 390.5,636.0 398.5,634.1 406.5,634.7 414.5,636.5 422.5,640.1 430.5,645.6 438.5,653.3 446.5,661.8 454.5,671.1 462.5,679.5 470.5,686.9 478.5,693.0 486.5,697.9 494.5,701.7 502.5,703.7 510.5,702.3 518.5,699.0 526.5,694.3 534.5,689.1 542.5,683.8 550.5,678.8 558.5,674.1 566.5,669.7 574.5,665.5 582.5,662.2 590.5,659.2 598.5,656.5 606.5,653.6 614.5,650.2 622.5,646.9 630.5,644.2 638.5,642.2 646.5,640.7 654.5,639.5 662.5,638.9 670.5,638.7 678.5,639.4 686.5,640.5 694.5,641.6 702.5,642.1 710.5,642.0 718.5,641.7 726.5,641.0 734.5,639.9 742.5,638.5 750.5,636.8 758.5,635.0 766.5,633.5 774.5,633.0 782.5,633.3 790.5,634.4 798.5,636.0 806.5,638.1 814.5,640.9 822.5,644.0 830.5,647.0 838.5,649.8 846.5,652.0 854.5,654.0 862.5,655.7 870.5,657.4 878.5,659.1 886.5,660.3 894.5,660.8 902.5,661.1 910.5,661.4 918.5,661.5 926.5,661.3 934.5,661.0 942.5,660.4 950.5,659.8 958.5,658.6 966.5,656.9 974.5,654.8 982.5,651.9 990.5,649.1 998.5,646.1 1006.5,642.7 1014.5,639.0 1022.5,635.1 1030.5,631.7 1038.5,629.2 1046.5,628.3 1054.5,629.0 1062.5,632.1 1070.5,636.7 1078.5,642.5 1086.5,649.2 1094.5,656.4 1102.5,664.1 1110.5,673.0 1118.5,681.9 1126.5,690.6 1134.5,697.7 1142.5,704.0 1150.5,709.4 1158.5,714.2 1166.5,718.3 1174.5,722.7 1182.5,726.4 1190.5,729.6 1198.5,731.7 1206.5,733.0 1214.5,733.6 1222.5,734.0 1230.5,733.5 1238.5,732.5 1246.5,729.9 1254.5,725.2 1262.5,719.2 1270.5,712.6 1278.5,705.7 1286.5,698.7 1294.5,691.3 1302.5,685.2 1310.5,679.7 1318.5,674.7 1326.5,671.7 1334.5,670.5 1342.5,671.1 1350.5,673.6 1358.5,676.8 1366.5,680.6 1374.5,684.4 1382.5,688.2" fill="none" stroke="#ff0000" stroke-width="1" stroke-dasharray="3,3" shape-rendering="crispEdges"/>
<g shape-rendering="crispEdges"><line x1="1317.5" y1="658.5" x2="1393.3" y2="712.1" stroke="#ff0000" stroke-width="3" stroke-linecap="round"/><polyline points="1383,710.5 1394.5,713 1388.5,704.5" fill="none" stroke="#ff0000" stroke-width="3" stroke-linejoin="miter" stroke-linecap="round"/></g>
</g>
<g clip-path="url(#crsi)">
<line x1="2" y1="788.5" x2="1649" y2="788.5" stroke="#c0c0c0" stroke-width="1" stroke-dasharray="3,3" shape-rendering="crispEdges"/>
<line x1="2" y1="839.5" x2="1649" y2="839.5" stroke="#c0c0c0" stroke-width="1" stroke-dasharray="3,3" shape-rendering="crispEdges"/>
<line x1="2" y1="900.5" x2="1649" y2="900.5" stroke="#c0c0c0" stroke-width="1" stroke-dasharray="3,3" shape-rendering="crispEdges"/>
<polyline points="-1.5,830.0 6.5,820.9 14.5,817.1 22.5,817.3 30.5,811.3 38.5,811.2 46.5,808.6 54.5,807.5 62.5,814.5 70.5,811.4 78.5,810.8 86.5,810.6 94.5,816.0 102.5,819.2 110.5,825.5 118.5,827.6 126.5,827.0 134.5,831.6 142.5,842.0 150.5,839.6 158.5,841.9 166.5,838.5 174.5,837.4 182.5,838.2 190.5,826.6 198.5,829.3 206.5,827.8 214.5,841.9 222.5,844.2 230.5,845.2 238.5,844.5 246.5,857.2 254.5,858.4 262.5,862.4 270.5,870.2 278.5,858.5 286.5,856.5 294.5,842.8 302.5,836.1 310.5,840.6 318.5,831.0 326.5,811.6 334.5,804.6 342.5,807.4 350.5,799.6 358.5,813.4 366.5,824.3 374.5,829.8 382.5,830.3 390.5,846.3 398.5,850.4 406.5,852.7 414.5,840.3 422.5,843.6 430.5,861.2 438.5,875.1 446.5,863.5 454.5,864.1 462.5,854.9 470.5,854.2 478.5,845.7 486.5,837.6 494.5,837.9 502.5,838.5 510.5,828.7 518.5,829.5 526.5,831.9 534.5,836.0 542.5,838.9 550.5,835.8 558.5,827.2 566.5,826.6 574.5,826.9 582.5,828.3 590.5,823.2 598.5,821.9 606.5,815.7 614.5,815.0 622.5,821.8 630.5,822.4 638.5,829.0 646.5,829.5 654.5,826.3 662.5,833.7 670.5,825.0 678.5,838.4 686.5,829.8 694.5,825.3 702.5,814.1 710.5,814.8 718.5,820.4 726.5,818.0 734.5,814.4 742.5,812.5 750.5,820.8 758.5,816.9 766.5,819.8 774.5,836.6 782.5,835.7 790.5,843.6 798.5,840.5 806.5,836.5 814.5,845.7 822.5,845.2 830.5,830.9 838.5,830.0 846.5,828.0 854.5,841.1 862.5,844.5 870.5,849.8 878.5,845.9 886.5,839.3 894.5,827.5 902.5,824.2 910.5,829.9 918.5,828.0 926.5,825.0 934.5,841.7 942.5,836.4 950.5,841.8 958.5,822.1 966.5,809.4 974.5,809.2 982.5,803.4 990.5,820.0 998.5,816.1 1006.5,817.4 1014.5,814.2 1022.5,818.0 1030.5,816.8 1038.5,816.6 1046.5,841.0 1054.5,845.9 1062.5,872.7 1070.5,860.6 1078.5,863.1 1086.5,856.8 1094.5,857.9 1102.5,860.1 1110.5,872.6 1118.5,869.2 1126.5,870.9 1134.5,872.9 1142.5,869.6 1150.5,871.8 1158.5,867.0 1166.5,860.6 1174.5,877.9 1182.5,876.0 1190.5,874.4 1198.5,856.3 1206.5,861.3 1214.5,858.0 1222.5,865.1 1230.5,844.5 1238.5,844.9 1246.5,842.6 1254.5,825.6 1262.5,830.5 1270.5,825.8 1278.5,834.6 1286.5,833.3 1294.5,835.6 1302.5,844.8 1310.5,838.6 1318.5,835.8 1326.5,848.0 1334.5,854.6 1342.5,857.1 1350.5,869.2 1358.5,852.1 1366.5,854.9 1374.5,853.9 1382.5,850.9" fill="none" stroke="#1e90ff" stroke-width="1" shape-rendering="crispEdges"/>
<g shape-rendering="crispEdges"><line x1="1278" y1="828.5" x2="1385.6" y2="861.1" stroke="#ff0000" stroke-width="3" stroke-linecap="round"/><polyline points="1375.5,862.5 1387,861.5 1379,854.5" fill="none" stroke="#ff0000" stroke-width="3" stroke-linejoin="miter" stroke-linecap="round"/></g>
</g>
<g shape-rendering="crispEdges" fill="#000">
<rect x="0" y="25" width="1650" height="1"/>
<rect x="0" y="578" width="1650" height="1"/>
<rect x="0" y="580" width="1650" height="1"/>
<rect x="0" y="750" width="1650" height="1"/>
<rect x="0" y="752" width="1650" height="1"/>
<rect x="0" y="926" width="1650" height="1"/>
<rect x="1649" y="25" width="1" height="554"/>
<rect x="1649" y="580" width="1" height="171"/>
<rect x="1649" y="752" width="1" height="175"/>
</g>
<g font-family='"Liberation Sans", Arial, sans-serif' font-size="10.3" fill="#000" stroke="#000" stroke-width="0.12">
<rect x="1650" y="47" width="3" height="1" shape-rendering="crispEdges"/>
<text x="1655" y="51" font-size="10.3" textLength="33.13" lengthAdjust="spacingAndGlyphs">29376.0</text>
<rect x="1650" y="80" width="3" height="1" shape-rendering="crispEdges"/>
<text x="1655" y="84" font-size="10.3" textLength="33.13" lengthAdjust="spacingAndGlyphs">29271.0</text>
<rect x="1650" y="113" width="3" height="1" shape-rendering="crispEdges"/>
<text x="1655" y="117" font-size="10.3" textLength="33.13" lengthAdjust="spacingAndGlyphs">29169.0</text>
<rect x="1650" y="146" width="3" height="1" shape-rendering="crispEdges"/>
<text x="1655" y="150" font-size="10.3" textLength="33.13" lengthAdjust="spacingAndGlyphs">29064.0</text>
<rect x="1650" y="179" width="3" height="1" shape-rendering="crispEdges"/>
<text x="1655" y="183" font-size="10.3" textLength="33.13" lengthAdjust="spacingAndGlyphs">28959.0</text>
<rect x="1650" y="212" width="3" height="1" shape-rendering="crispEdges"/>
<text x="1655" y="216" font-size="10.3" textLength="33.13" lengthAdjust="spacingAndGlyphs">28854.0</text>
<rect x="1650" y="245" width="3" height="1" shape-rendering="crispEdges"/>
<text x="1655" y="249" font-size="10.3" textLength="33.13" lengthAdjust="spacingAndGlyphs">28749.0</text>
<rect x="1650" y="278" width="3" height="1" shape-rendering="crispEdges"/>
<text x="1655" y="282" font-size="10.3" textLength="33.13" lengthAdjust="spacingAndGlyphs">28644.0</text>
<rect x="1650" y="311" width="3" height="1" shape-rendering="crispEdges"/>
<text x="1655" y="315" font-size="10.3" textLength="33.13" lengthAdjust="spacingAndGlyphs">28539.0</text>
<rect x="1650" y="344" width="3" height="1" shape-rendering="crispEdges"/>
<text x="1655" y="348" font-size="10.3" textLength="33.13" lengthAdjust="spacingAndGlyphs">28437.0</text>
<rect x="1650" y="377" width="3" height="1" shape-rendering="crispEdges"/>
<text x="1655" y="381" font-size="10.3" textLength="33.13" lengthAdjust="spacingAndGlyphs">28332.0</text>
<rect x="1650" y="410" width="3" height="1" shape-rendering="crispEdges"/>
<rect x="1650" y="443" width="3" height="1" shape-rendering="crispEdges"/>
<text x="1655" y="447" font-size="10.3" textLength="33.13" lengthAdjust="spacingAndGlyphs">28122.0</text>
<rect x="1650" y="476" width="3" height="1" shape-rendering="crispEdges"/>
<text x="1655" y="480" font-size="10.3" textLength="33.13" lengthAdjust="spacingAndGlyphs">28017.0</text>
<rect x="1650" y="509" width="3" height="1" shape-rendering="crispEdges"/>
<text x="1655" y="513" font-size="10.3" textLength="33.13" lengthAdjust="spacingAndGlyphs">27912.0</text>
<rect x="1650" y="542" width="3" height="1" shape-rendering="crispEdges"/>
<text x="1655" y="546" font-size="10.3" textLength="33.13" lengthAdjust="spacingAndGlyphs">27807.0</text>
<rect x="1650" y="575" width="3" height="1" shape-rendering="crispEdges"/>
<text x="1655" y="579" font-size="10.3" textLength="33.13" lengthAdjust="spacingAndGlyphs">27705.0</text>
<rect x="1651" y="323" width="41" height="11" fill="#ff0000" shape-rendering="crispEdges"/>
<text x="1655" y="332" font-size="10.3" fill="#fff" textLength="33.13" lengthAdjust="spacingAndGlyphs" stroke="#fff">28483.6</text>
<rect x="1651" y="354" width="41" height="11" fill="#ff0000" shape-rendering="crispEdges"/>
<text x="1655" y="363" font-size="10.3" fill="#fff" textLength="33.13" lengthAdjust="spacingAndGlyphs" stroke="#fff">28385.5</text>
<rect x="1651" y="383" width="41" height="11" fill="#32cd32" shape-rendering="crispEdges"/>
<text x="1655" y="392" font-size="10.3" fill="#fff" textLength="33.13" lengthAdjust="spacingAndGlyphs" stroke="#fff">28293.8</text>
<rect x="1651" y="403" width="41" height="11" fill="#000000" shape-rendering="crispEdges"/>
<text x="1655" y="412" font-size="10.3" fill="#fff" textLength="33.13" lengthAdjust="spacingAndGlyphs" stroke="#fff">28232.5</text>
<rect x="1651" y="429" width="41" height="11" fill="#0000ff" shape-rendering="crispEdges"/>
<text x="1655" y="438" font-size="10.3" fill="#fff" textLength="33.13" lengthAdjust="spacingAndGlyphs" stroke="#fff">28148.3</text>
<rect x="1651" y="454" width="41" height="11" fill="#0000ff" shape-rendering="crispEdges"/>
<text x="1655" y="463" font-size="10.3" fill="#fff" textLength="33.13" lengthAdjust="spacingAndGlyphs" stroke="#fff">28069.2</text>
<rect x="1650" y="582" width="3" height="1" shape-rendering="crispEdges"/>
<rect x="1650" y="668" width="3" height="1" shape-rendering="crispEdges"/>
<rect x="1650" y="749" width="3" height="1" shape-rendering="crispEdges"/>
<text x="1653" y="591" font-size="10.3" textLength="28.04" lengthAdjust="spacingAndGlyphs">236.52</text><text x="1653" y="672" font-size="10.3" textLength="17.84" lengthAdjust="spacingAndGlyphs">0.00</text><text x="1653" y="746.5" font-size="10.3" textLength="31.09" lengthAdjust="spacingAndGlyphs">-223.57</text>
<rect x="1650" y="754" width="3" height="1" shape-rendering="crispEdges"/>
<rect x="1650" y="925" width="3" height="1" shape-rendering="crispEdges"/>
<rect x="1650" y="788" width="2" height="1" fill="#c0c0c0" stroke="none" shape-rendering="crispEdges"/>
<rect x="1650" y="839" width="2" height="1" fill="#c0c0c0" stroke="none" shape-rendering="crispEdges"/>
<rect x="1650" y="900" width="2" height="1" fill="#c0c0c0" stroke="none" shape-rendering="crispEdges"/>
<text x="1653" y="763" font-size="10.3" textLength="15.29" lengthAdjust="spacingAndGlyphs">100</text><text x="1653" y="792" font-size="10.3" textLength="10.2" lengthAdjust="spacingAndGlyphs">80</text><text x="1653" y="843" font-size="10.3" textLength="10.2" lengthAdjust="spacingAndGlyphs">50</text><text x="1653" y="904" font-size="10.3" textLength="10.2" lengthAdjust="spacingAndGlyphs">15</text><text x="1653" y="923" font-size="10.3" textLength="5.1" lengthAdjust="spacingAndGlyphs">0</text>
<text x="-5.2" y="593" font-size="10.3" textLength="122.38" lengthAdjust="spacingAndGlyphs">MACD(12,26,9) -95.85 -56.94</text>
<text x="-6.5" y="765" font-size="10.3" textLength="67.26" lengthAdjust="spacingAndGlyphs">RSI(14) 43.7796</text>
<text x="5" y="37" font-size="10.3" textLength="195.19" lengthAdjust="spacingAndGlyphs">JPN225-,H4  28185.0 28252.5 28167.5 28232.5</text>
<text x="-11.5" y="939" font-size="10.3" textLength="46.88" lengthAdjust="spacingAndGlyphs">7 Dec 2021</text>
<rect x="54" y="927" width="1" height="3" shape-rendering="crispEdges"/>
<text x="52.5" y="939" font-size="10.3" textLength="49.43" lengthAdjust="spacingAndGlyphs">8 Dec 00:00</text>
<rect x="118" y="927" width="1" height="3" shape-rendering="crispEdges"/>
<text x="116.5" y="939" font-size="10.3" textLength="49.43" lengthAdjust="spacingAndGlyphs">9 Dec 10:55</text>
<rect x="182" y="927" width="1" height="3" shape-rendering="crispEdges"/>
<text x="180.5" y="939" font-size="10.3" textLength="54.53" lengthAdjust="spacingAndGlyphs">10 Dec 18:55</text>
<rect x="246" y="927" width="1" height="3" shape-rendering="crispEdges"/>
<text x="244.5" y="939" font-size="10.3" textLength="54.53" lengthAdjust="spacingAndGlyphs">14 Dec 00:00</text>
<rect x="310" y="927" width="1" height="3" shape-rendering="crispEdges"/>
<text x="308.5" y="939" font-size="10.3" textLength="54.53" lengthAdjust="spacingAndGlyphs">15 Dec 10:55</text>
<rect x="374" y="927" width="1" height="3" shape-rendering="crispEdges"/>
<text x="372.5" y="939" font-size="10.3" textLength="54.53" lengthAdjust="spacingAndGlyphs">16 Dec 18:55</text>
<rect x="438" y="927" width="1" height="3" shape-rendering="crispEdges"/>
<text x="436.5" y="939" font-size="10.3" textLength="54.53" lengthAdjust="spacingAndGlyphs">20 Dec 00:00</text>
<rect x="502" y="927" width="1" height="3" shape-rendering="crispEdges"/>
<text x="500.5" y="939" font-size="10.3" textLength="54.53" lengthAdjust="spacingAndGlyphs">21 Dec 10:55</text>
<rect x="566" y="927" width="1" height="3" shape-rendering="crispEdges"/>
<text x="564.5" y="939" font-size="10.3" textLength="54.53" lengthAdjust="spacingAndGlyphs">22 Dec 18:55</text>
<rect x="630" y="927" width="1" height="3" shape-rendering="crispEdges"/>
<text x="628.5" y="939" font-size="10.3" textLength="54.53" lengthAdjust="spacingAndGlyphs">24 Dec 00:00</text>
<rect x="694" y="927" width="1" height="3" shape-rendering="crispEdges"/>
<text x="692.5" y="939" font-size="10.3" textLength="54.53" lengthAdjust="spacingAndGlyphs">27 Dec 10:55</text>
<rect x="758" y="927" width="1" height="3" shape-rendering="crispEdges"/>
<text x="756.5" y="939" font-size="10.3" textLength="54.53" lengthAdjust="spacingAndGlyphs">28 Dec 18:55</text>
<rect x="822" y="927" width="1" height="3" shape-rendering="crispEdges"/>
<text x="820.5" y="939" font-size="10.3" textLength="54.53" lengthAdjust="spacingAndGlyphs">30 Dec 00:00</text>
<rect x="886" y="927" width="1" height="3" shape-rendering="crispEdges"/>
<text x="884.5" y="939" font-size="10.3" textLength="54.53" lengthAdjust="spacingAndGlyphs">31 Dec 10:55</text>
<rect x="950" y="927" width="1" height="3" shape-rendering="crispEdges"/>
<text x="948.5" y="939" font-size="10.3" textLength="47.91" lengthAdjust="spacingAndGlyphs">3 Jan 18:55</text>
<rect x="1014" y="927" width="1" height="3" shape-rendering="crispEdges"/>
<text x="1012.5" y="939" font-size="10.3" textLength="47.91" lengthAdjust="spacingAndGlyphs">5 Jan 00:00</text>
<rect x="1078" y="927" width="1" height="3" shape-rendering="crispEdges"/>
<text x="1076.5" y="939" font-size="10.3" textLength="47.91" lengthAdjust="spacingAndGlyphs">6 Jan 10:55</text>
<rect x="1142" y="927" width="1" height="3" shape-rendering="crispEdges"/>
<text x="1140.5" y="939" font-size="10.3" textLength="47.91" lengthAdjust="spacingAndGlyphs">7 Jan 18:55</text>
<rect x="1206" y="927" width="1" height="3" shape-rendering="crispEdges"/>
<text x="1204.5" y="939" font-size="10.3" textLength="52.32" lengthAdjust="spacingAndGlyphs">11 Jan 00:00</text>
<rect x="1270" y="927" width="1" height="3" shape-rendering="crispEdges"/>
<text x="1268.5" y="939" font-size="10.3" textLength="53.01" lengthAdjust="spacingAndGlyphs">12 Jan 10:55</text>
<rect x="1334" y="927" width="1" height="3" shape-rendering="crispEdges"/>
<text x="1332.5" y="939" font-size="10.3" textLength="53.01" lengthAdjust="spacingAndGlyphs">13 Jan 18:55</text>
</g>
</svg>
<svg width="1697" height="25" viewBox="0 0 1697 25" style="position:absolute;left:0;top:0">
<rect x="0" y="0" width="1697" height="20" fill="#f0f0f0"/>
<rect x="0" y="20" width="1697" height="1" fill="#f6f6f6"/>
<rect x="0" y="21" width="1696" height="1" fill="#a9a9a9"/>
<rect x="0" y="22" width="1696" height="1" fill="#6b6b6b"/>
<rect x="0" y="23" width="1695" height="2" fill="#ffffff"/>
<defs><pattern id="chk" width="2" height="2" patternUnits="userSpaceOnUse"><rect width="1" height="1" fill="#e6e6e6"/><rect x="1" y="1" width="1" height="1" fill="#e6e6e6"/></pattern><linearGradient id="gold" x1="0" y1="0" x2="1" y2="1"><stop offset="0" stop-color="#f8e060"/><stop offset="0.6" stop-color="#e8b820"/><stop offset="1" stop-color="#c08010"/></linearGradient><linearGradient id="blu" x1="0" y1="0" x2="0" y2="1"><stop offset="0" stop-color="#40a8ff"/><stop offset="1" stop-color="#0070e8"/></linearGradient><linearGradient id="grn" x1="0" y1="0" x2="0" y2="1"><stop offset="0" stop-color="#a0ffa0"/><stop offset="0.5" stop-color="#10f030"/><stop offset="1" stop-color="#00c020"/></linearGradient><linearGradient id="yel" x1="0" y1="0" x2="1" y2="1"><stop offset="0" stop-color="#f0c830"/><stop offset="1" stop-color="#fff890"/></linearGradient><linearGradient id="cloud" x1="0" y1="0" x2="0" y2="1"><stop offset="0" stop-color="#ffffff"/><stop offset="1" stop-color="#b8c4dc"/></linearGradient><radialGradient id="radar" cx="0.6" cy="0.6" r="0.6"><stop offset="0" stop-color="#e8f4e0"/><stop offset="1" stop-color="#d8e8f8"/></radialGradient><radialGradient id="lens" cx="0.4" cy="0.4" r="0.6"><stop offset="0" stop-color="#ffffff"/><stop offset="1" stop-color="#bfe6fa"/></radialGradient><radialGradient id="clk" cx="0.5" cy="0.5" r="0.5"><stop offset="0.62" stop-color="#ffffff"/><stop offset="0.72" stop-color="#2a8ae0"/><stop offset="1" stop-color="#0a4aa0"/></radialGradient><radialGradient id="badge" cx="0.45" cy="0.3" r="0.7"><stop offset="0" stop-color="#f26a4a"/><stop offset="1" stop-color="#d01800"/></radialGradient></defs>
<path d="M0,14 L3,17 L1,19 L0,19 Z" fill="#c9a020"/>
<rect x="10" y="1" width="1" height="18" fill="#a0a0a0"/><rect x="11" y="1" width="1" height="18" fill="#ffffff"/>
<path d="M20.5,1.5 h8 l3,3 v10 h-11 z" fill="#fff" stroke="#666" stroke-width="1"/><path d="M28.5,1.5 v3 h3" fill="#ddd" stroke="#666" stroke-width="1"/>
<rect x="22" y="3" width="3" height="1.5" fill="#777"/><rect x="22" y="7" width="6" height="1" fill="#888"/><rect x="22" y="9" width="5" height="1" fill="#888"/><rect x="22" y="11" width="3" height="1" fill="#888"/>
<path d="M28.5,7.5 h3 v4 h4 v3 h-4 v4 h-3 v-4 h-4 v-3 h4 z" fill="url(#grn)" stroke="#008000" stroke-width="1"/>
<text x="39.5" y="11.7" font-family='"Liberation Sans", Arial, sans-serif' font-size="13.6" fill="#000" textLength="63.8" lengthAdjust="spacingAndGlyphs">New Order</text>
<path d="M116.5,10.5 L124,14.5 L130.5,8.5 L131.5,11 L124,16.5 L116.5,12.5 Z" fill="#f4e6b0" stroke="#9a6410" stroke-width="1"/>
<path d="M121.5,2.5 L130.5,8.5 L124,14.5 L116.5,10.5 L120,6 Z" fill="url(#gold)" stroke="#a86c10" stroke-width="1"/>
<path d="M118.5,11 L124,13.5" stroke="#fff3c0" stroke-width="1"/>
<path d="M146.5,2.5 l2,-1 h7 l1,1.5 v8 h-10 z" fill="url(#blu)" stroke="#0a70d8" stroke-width="0.8"/>
<path d="M147,2.5 l2.5,2.5 v6" fill="none" stroke="#c8e8ff" stroke-width="0.8"/><rect x="151" y="5.5" width="4" height="1" fill="#fff"/>
<path d="M144.5,15.5 q-0.5,-3.5 3,-4 q1,-2.5 4,-2 q2,-1.5 4,0.5 q3,-0.5 3.5,2.5 q1.5,1 1,3 q-0.5,1 -1.5,1 h-12.5 q-1.5,0 -1.5,-1 z" fill="url(#cloud)" stroke="#3c5c98" stroke-width="1"/>
<circle cx="180" cy="8.7" r="7.5" fill="url(#radar)" stroke="#5a86d6" stroke-width="1"/>
<circle cx="180" cy="8.7" r="4.8" fill="none" stroke="#6a96e0" stroke-width="1" opacity="0.8"/>
<path d="M180,8.7 L180,16.2 A7.5,7.5 0 0 0 187.5,8.7 Z" fill="#a8d8a0" opacity="0.8"/>
<circle cx="179.8" cy="8.5" r="1.8" fill="#1a4ad0"/><rect x="180" y="9" width="1.3" height="8" fill="#20a020"/>
<path d="M199.5,8.5 L215,8 L207.5,17 Z" fill="url(#yel)" stroke="#c89018" stroke-width="1"/>
<ellipse cx="207" cy="6" rx="7.7" ry="2.6" fill="#5ab4e6" stroke="#1a7ab0" stroke-width="1"/><path d="M203,6 q0,-5 4,-5 q4,0 4,5 z" fill="#7cc8f0" stroke="#1a7ab0" stroke-width="1"/>
<circle cx="211.5" cy="12.5" r="4.6" fill="#e02a10" stroke="#b01000" stroke-width="0.8"/><rect x="209.8" y="10.8" width="3.4" height="3.4" fill="#fff"/>
<text x="221" y="11.7" font-family='"Liberation Sans", Arial, sans-serif' font-size="13.6" fill="#000" textLength="70.3" lengthAdjust="spacingAndGlyphs">AutoTrading</text>
<rect x="299" y="1" width="1" height="18" fill="#a0a0a0"/><rect x="300" y="1" width="1" height="18" fill="#ffffff"/>
<rect x="303" y="1" width="3" height="1" fill="#9a9a9a"/>
<rect x="303" y="3" width="3" height="1" fill="#9a9a9a"/>
<rect x="303" y="5" width="3" height="1" fill="#9a9a9a"/>
<rect x="303" y="7" width="3" height="1" fill="#9a9a9a"/>
<rect x="303" y="9" width="3" height="1" fill="#9a9a9a"/>
<rect x="303" y="11" width="3" height="1" fill="#9a9a9a"/>
<rect x="303" y="13" width="3" height="1" fill="#9a9a9a"/>
<rect x="303" y="15" width="3" height="1" fill="#9a9a9a"/>
<rect x="303" y="17" width="3" height="1" fill="#9a9a9a"/>
<rect x="317" y="3" width="1" height="14" fill="#555"/><rect x="315" y="14" width="14" height="1" fill="#555"/><path d="M315.5,5 L317.5,2.5 L319.5,5 Z" fill="#555"/><path d="M328,12.5 L330.5,14.5 L328,16.5 Z" fill="#555"/>
<path d="M321.5,11.5 h2.5 v-7 h2.5" fill="none" stroke="#1a9a1a" stroke-width="1"/><rect x="323" y="4" width="1" height="9" fill="#1a9a1a"/>
<rect x="337" y="1" width="1" height="18" fill="#a0a0a0"/><rect x="338" y="1" width="1" height="18" fill="#ffffff"/>
<rect x="339" y="0" width="23" height="19" fill="#f8f8f8"/><rect x="339" y="0" width="23" height="19" fill="url(#chk)"/>
<rect x="345" y="3" width="1" height="14" fill="#555"/><rect x="343" y="14" width="14" height="1" fill="#555"/><path d="M343.5,5 L345.5,2.5 L347.5,5 Z" fill="#555"/><path d="M356,12.5 L358.5,14.5 L356,16.5 Z" fill="#555"/>
<rect x="351" y="1" width="1" height="12" fill="#0a8a0a"/><rect x="349.5" y="3.5" width="4" height="7" fill="#44dd44" stroke="#0a8a0a" stroke-width="1"/>
<rect x="373" y="3" width="1" height="14" fill="#555"/><rect x="371" y="14" width="14" height="1" fill="#555"/><path d="M371.5,5 L373.5,2.5 L375.5,5 Z" fill="#555"/><path d="M384,12.5 L386.5,14.5 L384,16.5 Z" fill="#555"/>
<path d="M372,11 q4,-6 6.5,-5 q2.5,1 6,4" fill="none" stroke="#30a030" stroke-width="1.2"/>
<rect x="394" y="1" width="1" height="18" fill="#a0a0a0"/><rect x="395" y="1" width="1" height="18" fill="#ffffff"/>
<line x1="412.5" y1="10.5" x2="418" y2="16" stroke="#b08a10" stroke-width="3"/><line x1="412.5" y1="10.5" x2="418" y2="16" stroke="#f0d040" stroke-width="1.5"/>
<circle cx="409" cy="7" r="5.5" fill="url(#lens)" stroke="#2a70c0" stroke-width="1"/>
<rect x="406" y="6" width="6" height="1.6" fill="#3a80b0"/>
<rect x="408.2" y="3.8" width="1.6" height="6" fill="#3a80b0"/>
<line x1="440.5" y1="10.5" x2="446" y2="16" stroke="#b08a10" stroke-width="3"/><line x1="440.5" y1="10.5" x2="446" y2="16" stroke="#f0d040" stroke-width="1.5"/>
<circle cx="437" cy="7" r="5.5" fill="url(#lens)" stroke="#2a70c0" stroke-width="1"/>
<rect x="434" y="6" width="6" height="1.6" fill="#3a80b0"/>
<rect x="459" y="1" width="8" height="8" fill="#30a020"/><rect x="467" y="1" width="8" height="8" fill="#2050d0"/><rect x="459" y="9" width="8" height="8" fill="#2050d0"/><rect x="467" y="9" width="8" height="8" fill="#30a020"/>
<rect x="460" y="4" width="6" height="4" fill="#fff"/>
<rect x="468" y="4" width="6" height="4" fill="#fff"/>
<rect x="460" y="12" width="6" height="4" fill="#fff"/>
<rect x="468" y="12" width="6" height="4" fill="#fff"/>
<rect x="484" y="1" width="1" height="18" fill="#a0a0a0"/><rect x="485" y="1" width="1" height="18" fill="#ffffff"/>
<rect x="489" y="1" width="1" height="18" fill="#a0a0a0"/><rect x="490" y="1" width="1" height="18" fill="#ffffff"/>
<rect x="491" y="0" width="23" height="19" fill="#f8f8f8"/><rect x="491" y="0" width="23" height="19" fill="url(#chk)"/>
<rect x="497" y="3" width="1" height="14" fill="#555"/><rect x="495" y="14" width="14" height="1" fill="#555"/><path d="M495.5,5 L497.5,2.5 L499.5,5 Z" fill="#555"/><path d="M508,12.5 L510.5,14.5 L508,16.5 Z" fill="#555"/>
<path d="M502.5,5 L506,8.5 L502.5,12 Z" fill="#30c030" stroke="#108010" stroke-width="1"/>
<rect x="517" y="1" width="1" height="18" fill="#a0a0a0"/><rect x="518" y="1" width="1" height="18" fill="#ffffff"/>
<rect x="519" y="0" width="23" height="19" fill="#f8f8f8"/><rect x="519" y="0" width="23" height="19" fill="url(#chk)"/>
<rect x="525" y="3" width="1" height="14" fill="#555"/><rect x="523" y="14" width="14" height="1" fill="#555"/><path d="M523.5,5 L525.5,2.5 L527.5,5 Z" fill="#555"/><path d="M536,12.5 L538.5,14.5 L536,16.5 Z" fill="#555"/>
<rect x="531" y="3" width="1" height="10" fill="#1060a0"/><path d="M532,8.5 L536,6 L535,8 L538,8 L538,9 L535,9 L536,11 Z" fill="#e05010"/>
<rect x="546" y="1" width="1" height="18" fill="#a0a0a0"/><rect x="547" y="1" width="1" height="18" fill="#ffffff"/>
<path d="M556.5,1.5 h8 l3,3 v10 h-11 z" fill="#fff" stroke="#666" stroke-width="1"/>
<path d="M558.5,4 q-1,0 -1,2 v5" fill="none" stroke="#7a6a40" stroke-width="1"/>
<path d="M563.5,7.5 h3 v4 h4 v3 h-4 v4 h-3 v-4 h-4 v-3 h4 z" fill="url(#grn)" stroke="#008000" stroke-width="1"/>
<path d="M578.0,8 h5 l-2.5,3 z" fill="#000"/>
<circle cx="602" cy="9" r="7.8" fill="url(#clk)"/><path d="M601.5,4.5 v4.5 h3" fill="none" stroke="#222" stroke-width="1"/>
<path d="M617.0,8 h5 l-2.5,3 z" fill="#000"/>
<rect x="633.5" y="2.5" width="15" height="13" fill="#fff" stroke="#2a6ab8" stroke-width="1"/><rect x="634" y="3" width="14" height="2" fill="#7ab0e8"/><rect x="634" y="10" width="14" height="1" fill="#2a6ab8"/>
<path d="M635,8.5 l3,-1 l2,-1 l2,1 l3,-2" fill="none" stroke="#a02010" stroke-width="1"/><path d="M636,13.5 l2,-1 l2,1 l2,-2 l3,2" fill="none" stroke="#10a010" stroke-width="1"/>
<path d="M656.0,8 h5 l-2.5,3 z" fill="#000"/>
<rect x="667" y="1" width="1" height="18" fill="#a0a0a0"/><rect x="668" y="1" width="1" height="18" fill="#ffffff"/>
<rect x="672" y="1" width="3" height="1" fill="#9a9a9a"/>
<rect x="672" y="3" width="3" height="1" fill="#9a9a9a"/>
<rect x="672" y="5" width="3" height="1" fill="#9a9a9a"/>
<rect x="672" y="7" width="3" height="1" fill="#9a9a9a"/>
<rect x="672" y="9" width="3" height="1" fill="#9a9a9a"/>
<rect x="672" y="11" width="3" height="1" fill="#9a9a9a"/>
<rect x="672" y="13" width="3" height="1" fill="#9a9a9a"/>
<rect x="672" y="15" width="3" height="1" fill="#9a9a9a"/>
<rect x="672" y="17" width="3" height="1" fill="#9a9a9a"/>
<rect x="677" y="1" width="1" height="18" fill="#a0a0a0"/><rect x="678" y="1" width="1" height="18" fill="#ffffff"/>
<rect x="679" y="0" width="23" height="19" fill="#f8f8f8"/><rect x="679" y="0" width="23" height="19" fill="url(#chk)"/>
<path d="M685,2 L685,13 L687.5,11 L689.5,16 L691.5,15 L689.5,10.5 L692.5,10 Z" fill="#444"/>
<rect x="717" y="2" width="1" height="15" fill="#444"/><rect x="710" y="9" width="15" height="1" fill="#444"/><rect x="717" y="8" width="1" height="3" fill="#f0f0f0"/><rect x="716" y="9" width="3" height="1" fill="#f0f0f0"/>
<rect x="734" y="1" width="1" height="18" fill="#a0a0a0"/><rect x="735" y="1" width="1" height="18" fill="#ffffff"/>
<rect x="751" y="3" width="1" height="13" fill="#444"/>
<rect x="774" y="9" width="12" height="1" fill="#444"/>
<line x1="802" y1="15.5" x2="814" y2="4" stroke="#444" stroke-width="1"/>
<line x1="828" y1="12" x2="836" y2="4" stroke="#444" stroke-width="1"/><line x1="830" y1="15" x2="840" y2="5" stroke="#444" stroke-width="1.2"/><line x1="833" y1="16" x2="842" y2="8" stroke="#444" stroke-width="1"/>
<text x="838.5" y="18" font-family='"Liberation Sans", Arial, sans-serif' font-size="6" font-weight="bold" fill="#444">E</text>
<line x1="857" y1="2.5" x2="870" y2="2.5" stroke="#444" stroke-width="1" stroke-dasharray="1,1"/>
<line x1="857" y1="5.5" x2="870" y2="5.5" stroke="#444" stroke-width="1" stroke-dasharray="1,1"/>
<line x1="857" y1="9.5" x2="870" y2="9.5" stroke="#444" stroke-width="1" stroke-dasharray="1,1"/>
<line x1="857" y1="13.5" x2="866" y2="13.5" stroke="#444" stroke-width="1" stroke-dasharray="1,1"/>
<text x="866.5" y="18" font-family='"Liberation Sans", Arial, sans-serif' font-size="6" font-weight="bold" fill="#444">F</text>
<text x="887.5" y="14" font-family='"Liberation Sans", Arial, sans-serif' font-size="12" fill="#444">A</text>
<rect x="914.5" y="2.5" width="11" height="13" fill="none" stroke="#444" stroke-width="1" stroke-dasharray="1,1"/>
<text x="916" y="13.5" font-family='"Liberation Sans", Arial, sans-serif' font-size="11" font-weight="bold" fill="#444">T</text>
<path d="M941,6 L944.5,3 L948,6 Z" fill="#444"/><path d="M944,9 l2,2 l4,-5" fill="none" stroke="#444" stroke-width="1.2"/><path d="M948,12 L955,12 L951.5,15.5 Z" fill="#444"/>
<path d="M962.0,8 h5 l-2.5,3 z" fill="#000"/>
<rect x="973" y="1" width="1" height="18" fill="#a0a0a0"/><rect x="974" y="1" width="1" height="18" fill="#ffffff"/>
<rect x="978" y="1" width="3" height="1" fill="#9a9a9a"/>
<rect x="978" y="3" width="3" height="1" fill="#9a9a9a"/>
<rect x="978" y="5" width="3" height="1" fill="#9a9a9a"/>
<rect x="978" y="7" width="3" height="1" fill="#9a9a9a"/>
<rect x="978" y="9" width="3" height="1" fill="#9a9a9a"/>
<rect x="978" y="11" width="3" height="1" fill="#9a9a9a"/>
<rect x="978" y="13" width="3" height="1" fill="#9a9a9a"/>
<rect x="978" y="15" width="3" height="1" fill="#9a9a9a"/>
<rect x="978" y="17" width="3" height="1" fill="#9a9a9a"/>
<text x="988.4" y="13" font-family='"Liberation Sans", Arial, sans-serif' font-size="9.5" fill="#333" textLength="13.0" lengthAdjust="spacingAndGlyphs">M1</text>
<text x="1016.4" y="13" font-family='"Liberation Sans", Arial, sans-serif' font-size="9.5" fill="#333" textLength="13.2" lengthAdjust="spacingAndGlyphs">M5</text>
<text x="1042.6" y="13" font-family='"Liberation Sans", Arial, sans-serif' font-size="9.5" fill="#333" textLength="17.8" lengthAdjust="spacingAndGlyphs">M15</text>
<text x="1070.5" y="13" font-family='"Liberation Sans", Arial, sans-serif' font-size="9.5" fill="#333" textLength="18.4" lengthAdjust="spacingAndGlyphs">M30</text>
<text x="1101.4" y="13" font-family='"Liberation Sans", Arial, sans-serif' font-size="9.5" fill="#333" textLength="12.2" lengthAdjust="spacingAndGlyphs">H1</text>
<rect x="1123" y="0" width="1" height="19" fill="#a0a0a0"/>
<rect x="1124" y="0" width="24" height="19" fill="#f8f8f8"/><rect x="1124" y="0" width="24" height="19" fill="url(#chk)"/>
<text x="1128.6" y="13" font-family='"Liberation Sans", Arial, sans-serif' font-size="9.5" fill="#333" textLength="12.6" lengthAdjust="spacingAndGlyphs">H4</text>
<text x="1157.5" y="13" font-family='"Liberation Sans", Arial, sans-serif' font-size="9.5" fill="#333" textLength="12.2" lengthAdjust="spacingAndGlyphs">D1</text>
<text x="1185.1" y="13" font-family='"Liberation Sans", Arial, sans-serif' font-size="9.5" fill="#333" textLength="14.6" lengthAdjust="spacingAndGlyphs">W1</text>
<text x="1211.5" y="13" font-family='"Liberation Sans", Arial, sans-serif' font-size="9.5" fill="#333" textLength="15.0" lengthAdjust="spacingAndGlyphs">MN</text>
<rect x="1233" y="1" width="1" height="18" fill="#a0a0a0"/><rect x="1234" y="1" width="1" height="18" fill="#ffffff"/>
<circle cx="1651.5" cy="6.5" r="3.5" fill="#f4f4ff" stroke="#2060d0" stroke-width="1.3"/><line x1="1649" y1="9" x2="1644.5" y2="13.5" stroke="#2060d0" stroke-width="2"/>
<path d="M1669,11 q0,-5 6,-5 q6,0 6,5 q0,4 -6,4 h-2 l-2,3 l0,-3 q-2,-1 -2,-4 z" fill="#e8e8ee" stroke="#999" stroke-width="1"/>
<circle cx="1682.5" cy="7" r="8" fill="url(#badge)"/>
<text x="1679.5" y="11" font-family='"Liberation Serif", serif' font-size="12" font-weight="bold" fill="#fff">1</text>
</svg>
<svg width="215" height="105" viewBox="0 0 215 105" style="position:absolute;left:0;top:0">
<defs><linearGradient id="btn" x1="0" y1="0" x2="0" y2="1"><stop offset="0" stop-color="#fa5252"/><stop offset="1" stop-color="#d82828"/></linearGradient><linearGradient id="pbox" x1="0" y1="0" x2="0" y2="1"><stop offset="0" stop-color="#dc2a2a"/><stop offset="1" stop-color="#b00000"/></linearGradient><linearGradient id="spin" x1="0" y1="0" x2="0" y2="1"><stop offset="0" stop-color="#f2f2f2"/><stop offset="0.5" stop-color="#e2e2e2"/><stop offset="1" stop-color="#d0d0d0"/></linearGradient></defs>
<rect x="0" y="45" width="45" height="25" fill="url(#btn)"/>
<rect x="44" y="45" width="1" height="25" fill="#b80000"/><rect x="0" y="45" width="45" height="1" fill="#c00000"/>
<rect x="0" y="68" width="41" height="1" fill="#7a0000"/><rect x="0" y="69" width="41" height="1" fill="#f06060"/>
<rect x="160" y="45" width="52" height="25" fill="url(#btn)"/>
<rect x="160" y="45" width="1" height="25" fill="#b80000"/><rect x="211" y="45" width="1" height="57" fill="#b00000"/><rect x="160" y="45" width="52" height="1" fill="#c00000"/>
<rect x="164" y="68" width="44" height="1" fill="#7a0000"/><rect x="164" y="69" width="44" height="1" fill="#f06060"/>
<rect x="0" y="70" width="102" height="32" fill="url(#pbox)"/>
<rect x="104" y="70" width="108" height="32" fill="url(#pbox)"/>
<rect x="44" y="69" width="58" height="1" fill="#c00000"/><rect x="104" y="69" width="57" height="1" fill="#c00000"/>
<rect x="102" y="69" width="2" height="33" fill="#fff"/>
<rect x="47.5" y="45.5" width="110" height="21" fill="#fff" stroke="#a4a8b0" stroke-width="1"/>
<rect x="49" y="47" width="19" height="18" fill="url(#spin)"/><rect x="68" y="46" width="1" height="20" fill="#a4a8b0"/>
<rect x="138" y="47" width="18" height="18" fill="url(#spin)"/><rect x="137" y="46" width="1" height="20" fill="#a4a8b0"/>
<path d="M55.5,54 h5 l-2.5,3 z" fill="#5060c0"/><path d="M144.5,57 h5 l-2.5,-3 z" fill="#5060c0"/>
<g font-family='"Liberation Sans", Arial, sans-serif'><text x="109.5" y="60" font-size="12.2" fill="#000" textLength="23.03" lengthAdjust="spacingAndGlyphs">1.00</text>
<text x="4.6" y="61" font-size="12.6" fill="#fff" textLength="26.51" lengthAdjust="spacingAndGlyphs">SELL</text>
<text x="173.2" y="61" font-size="12.0" fill="#fff" textLength="22.21" lengthAdjust="spacingAndGlyphs">BUY</text>
<text x="8.8" y="97" font-size="12.6" fill="#fff" font-weight="bold" textLength="34.68" lengthAdjust="spacingAndGlyphs">28231</text>
<circle cx="50.3" cy="94.6" r="2.1" fill="#fff"/>
<text x="54.3" y="97" font-size="35.5" fill="#fff" font-family='"Liberation Serif", serif' textLength="18.11" lengthAdjust="spacingAndGlyphs">0</text>
<text x="118.9" y="97" font-size="12.6" fill="#fff" font-weight="bold" textLength="34.68" lengthAdjust="spacingAndGlyphs">28254</text>
<circle cx="161.9" cy="94.6" r="2.1" fill="#fff"/>
<text x="165.3" y="97" font-size="35.5" fill="#fff" font-family='"Liberation Serif", serif' textLength="18.11" lengthAdjust="spacingAndGlyphs">0</text></g>
</svg>
</div></body></html>
